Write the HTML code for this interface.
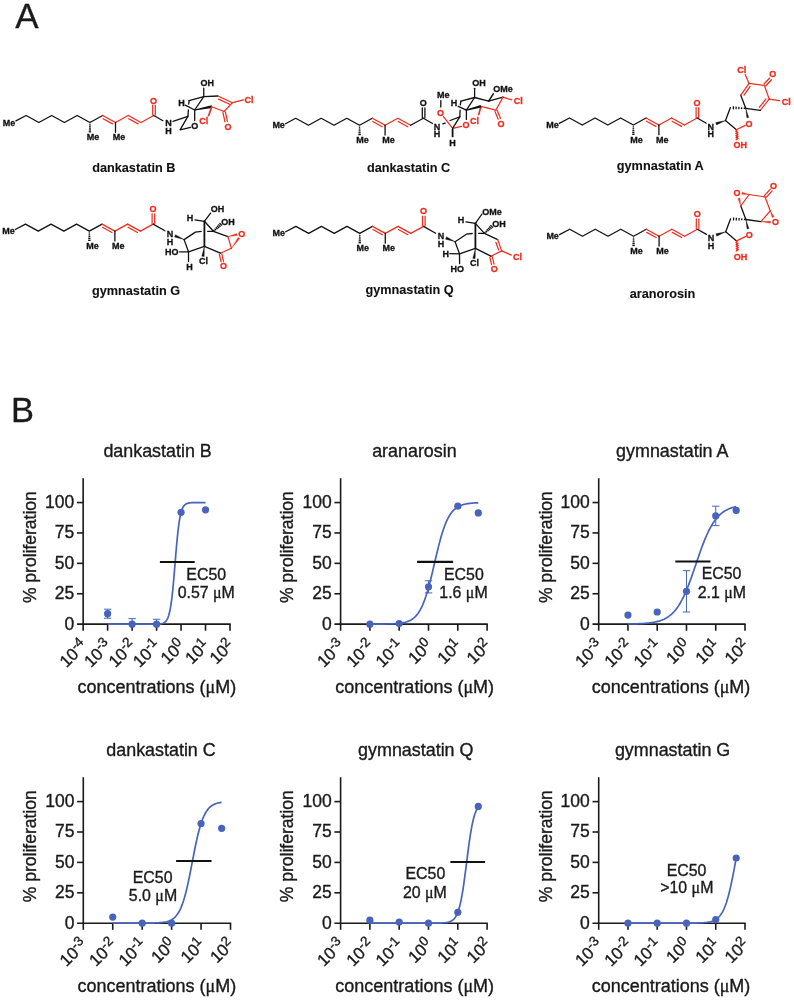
<!DOCTYPE html>
<html lang="en"><head><meta charset="utf-8"><title>Figure: dankastatins and gymnastatins</title>
<style>
html,body{margin:0;padding:0;background:#fff}
body{width:794px;height:1000px;overflow:hidden}
svg{display:block;font-family:"Liberation Sans",sans-serif}
</style></head><body>
<svg width="794" height="1000" viewBox="0 0 794 1000">
<rect width="794" height="1000" fill="#fff"/>
<text x="15.3" y="27.7" font-size="35" fill="#1a1a1a" stroke="#1a1a1a" stroke-width="0.3">A</text>
<text x="11.1" y="422.1" font-size="34.5" fill="#1a1a1a" stroke="#1a1a1a" stroke-width="0.3">B</text>
<g id="structures">
<polyline points="15.9,120.9 26.1,115.5 38.87,122.5 51.64,115.5 64.41,122.5 77.18,115.5 89.95,122.5 102.72,115.5" fill="none" stroke="#111111" stroke-width="1.3" stroke-linecap="round" stroke-linejoin="round"/>
<line x1="102.72" y1="115.5" x2="115.49" y2="122.5" stroke="#ee2b1d" stroke-width="1.22" stroke-linecap="round"/>
<line x1="103.14" y1="118.69" x2="112.57" y2="123.87" stroke="#ee2b1d" stroke-width="1.22" stroke-linecap="round"/>
<line x1="115.49" y1="122.5" x2="128.26" y2="115.5" stroke="#ee2b1d" stroke-width="1.22" stroke-linecap="round"/>
<line x1="128.26" y1="115.5" x2="141.03" y2="122.5" stroke="#ee2b1d" stroke-width="1.22" stroke-linecap="round"/>
<line x1="128.68" y1="118.69" x2="138.11" y2="123.87" stroke="#ee2b1d" stroke-width="1.22" stroke-linecap="round"/>
<line x1="141.03" y1="122.5" x2="153.8" y2="115.5" stroke="#ee2b1d" stroke-width="1.22" stroke-linecap="round"/>
<line x1="155.3" y1="114.9" x2="155.3" y2="105.2" stroke="#ee2b1d" stroke-width="1.22" stroke-linecap="round"/>
<line x1="152.7" y1="114.9" x2="152.7" y2="105.2" stroke="#ee2b1d" stroke-width="1.22" stroke-linecap="round"/>
<text x="153.6" y="103.5" fill="#ee2b1d" stroke="#ee2b1d" stroke-width="0.3" font-size="9.0" font-weight="bold" text-anchor="middle">O</text>
<text x="15.3" y="125.5" fill="#111111" stroke="#111111" stroke-width="0.3" font-size="9.0" font-weight="bold" text-anchor="end">Me</text>
<line x1="89.29" y1="124.42" x2="90.61" y2="124.42" stroke="#111111" stroke-width="1.3" stroke-linecap="butt"/>
<line x1="89.15" y1="126.26" x2="90.75" y2="126.26" stroke="#111111" stroke-width="1.3" stroke-linecap="butt"/>
<line x1="89.01" y1="128.1" x2="90.89" y2="128.1" stroke="#111111" stroke-width="1.3" stroke-linecap="butt"/>
<line x1="88.86" y1="129.94" x2="91.04" y2="129.94" stroke="#111111" stroke-width="1.3" stroke-linecap="butt"/>
<line x1="88.72" y1="131.78" x2="91.18" y2="131.78" stroke="#111111" stroke-width="1.3" stroke-linecap="butt"/>
<text x="86.75" y="140.1" fill="#111111" stroke="#111111" stroke-width="0.3" font-size="9.0" font-weight="bold" text-anchor="start">Me</text>
<line x1="115.49" y1="122.5" x2="115.49" y2="132.3" stroke="#111111" stroke-width="1.3" stroke-linecap="round"/>
<text x="112.69" y="140.1" fill="#111111" stroke="#111111" stroke-width="0.3" font-size="9.0" font-weight="bold" text-anchor="start">Me</text>
<line x1="153.8" y1="115.5" x2="162.9" y2="120.69" stroke="#111111" stroke-width="1.3" stroke-linecap="round"/>
<text x="168.4" y="126.4" fill="#111111" stroke="#111111" stroke-width="0.3" font-size="9.0" font-weight="bold" text-anchor="middle">N</text>
<text x="168.4" y="133.8" fill="#111111" stroke="#111111" stroke-width="0.3" font-size="9.0" font-weight="bold" text-anchor="middle">H</text>
<line x1="173" y1="121.4" x2="187.9" y2="116.3" stroke="#111111" stroke-width="1.3" stroke-linecap="round"/>
<polyline points="187.9,116.3 180.1,129.8 190.6,127.4" fill="none" stroke="#111111" stroke-width="1.3" stroke-linecap="round" stroke-linejoin="round"/>
<line x1="187.9" y1="116.3" x2="188.4" y2="109.9" stroke="#111111" stroke-width="1.3" stroke-linecap="round"/>
<line x1="188.7" y1="104" x2="189.1" y2="100.7" stroke="#111111" stroke-width="1.3" stroke-linecap="round"/>
<line x1="189.1" y1="100.7" x2="203.75" y2="96.7" stroke="#111111" stroke-width="1.3" stroke-linecap="round"/>
<line x1="203.75" y1="96.7" x2="203.75" y2="88.1" stroke="#111111" stroke-width="1.3" stroke-linecap="round"/>
<line x1="203.75" y1="96.7" x2="194.7" y2="110" stroke="#111111" stroke-width="1.3" stroke-linecap="round"/>
<line x1="203.75" y1="96.7" x2="217.9" y2="96" stroke="#111111" stroke-width="1.3" stroke-linecap="round"/>
<line x1="194.7" y1="110" x2="194.7" y2="120.6" stroke="#111111" stroke-width="1.3" stroke-linecap="round"/>
<line x1="185.2" y1="105.2" x2="194.7" y2="110" stroke="#111111" stroke-width="1.3" stroke-linecap="round"/>
<polygon points="194.81,110.59 212.06,108.03 211.54,105.37 194.59,109.41" fill="#111111"/>
<line x1="217.9" y1="96" x2="232.5" y2="102.7" stroke="#ee2b1d" stroke-width="1.22" stroke-linecap="round"/>
<line x1="218.54" y1="99.16" x2="229.69" y2="104.27" stroke="#ee2b1d" stroke-width="1.22" stroke-linecap="round"/>
<line x1="232.5" y1="102.7" x2="243.6" y2="99.9" stroke="#ee2b1d" stroke-width="1.22" stroke-linecap="round"/>
<line x1="232.5" y1="102.7" x2="224" y2="111.5" stroke="#ee2b1d" stroke-width="1.22" stroke-linecap="round"/>
<line x1="224" y1="111.5" x2="211.8" y2="106.7" stroke="#ee2b1d" stroke-width="1.22" stroke-linecap="round"/>
<line x1="211.8" y1="106.7" x2="208.4" y2="116.2" stroke="#ee2b1d" stroke-width="1.7" stroke-linecap="butt"/>
<line x1="222.98" y1="112.56" x2="224.98" y2="121.86" stroke="#ee2b1d" stroke-width="1.22" stroke-linecap="round"/>
<line x1="225.42" y1="112.04" x2="227.42" y2="121.34" stroke="#ee2b1d" stroke-width="1.22" stroke-linecap="round"/>
<text x="200.6" y="85.7" fill="#111111" stroke="#111111" stroke-width="0.3" font-size="9.0" font-weight="bold" text-anchor="start">OH</text>
<text x="181.4" y="105.8" fill="#111111" stroke="#111111" stroke-width="0.3" font-size="9.0" font-weight="bold" text-anchor="middle">H</text>
<text x="194.8" y="128.9" fill="#111111" stroke="#111111" stroke-width="0.3" font-size="9.0" font-weight="bold" text-anchor="middle">O</text>
<text x="199.2" y="124.4" fill="#ee2b1d" stroke="#ee2b1d" stroke-width="0.3" font-size="9.0" font-weight="bold" text-anchor="start">Cl</text>
<text x="227.9" y="129.9" fill="#ee2b1d" stroke="#ee2b1d" stroke-width="0.3" font-size="9.0" font-weight="bold" text-anchor="middle">O</text>
<text x="244.4" y="103.2" fill="#ee2b1d" stroke="#ee2b1d" stroke-width="0.3" font-size="9.0" font-weight="bold" text-anchor="start">Cl</text>
<text x="133.8" y="171.8" fill="#111111" stroke="#111111" stroke-width="0.1" font-size="12.7" font-weight="bold" text-anchor="middle">dankastatin B</text>
<polyline points="285.5,123.7 295.7,118.3 308.47,125.3 321.24,118.3 334.01,125.3 346.78,118.3 359.55,125.3 372.32,118.3" fill="none" stroke="#111111" stroke-width="1.3" stroke-linecap="round" stroke-linejoin="round"/>
<line x1="372.32" y1="118.3" x2="385.09" y2="125.3" stroke="#ee2b1d" stroke-width="1.22" stroke-linecap="round"/>
<line x1="372.74" y1="121.49" x2="382.17" y2="126.67" stroke="#ee2b1d" stroke-width="1.22" stroke-linecap="round"/>
<line x1="385.09" y1="125.3" x2="397.86" y2="118.3" stroke="#ee2b1d" stroke-width="1.22" stroke-linecap="round"/>
<line x1="397.86" y1="118.3" x2="410.63" y2="125.3" stroke="#ee2b1d" stroke-width="1.22" stroke-linecap="round"/>
<line x1="398.28" y1="121.49" x2="407.71" y2="126.67" stroke="#ee2b1d" stroke-width="1.22" stroke-linecap="round"/>
<line x1="410.63" y1="125.3" x2="423.4" y2="118.3" stroke="#111111" stroke-width="1.3" stroke-linecap="round"/>
<line x1="424.9" y1="117.7" x2="424.9" y2="108" stroke="#111111" stroke-width="1.3" stroke-linecap="round"/>
<line x1="422.3" y1="117.7" x2="422.3" y2="108" stroke="#111111" stroke-width="1.3" stroke-linecap="round"/>
<text x="423.2" y="106.3" fill="#111111" stroke="#111111" stroke-width="0.3" font-size="9.0" font-weight="bold" text-anchor="middle">O</text>
<text x="284.9" y="128.3" fill="#111111" stroke="#111111" stroke-width="0.3" font-size="9.0" font-weight="bold" text-anchor="end">Me</text>
<line x1="358.89" y1="127.22" x2="360.21" y2="127.22" stroke="#111111" stroke-width="1.3" stroke-linecap="butt"/>
<line x1="358.75" y1="129.06" x2="360.35" y2="129.06" stroke="#111111" stroke-width="1.3" stroke-linecap="butt"/>
<line x1="358.61" y1="130.9" x2="360.49" y2="130.9" stroke="#111111" stroke-width="1.3" stroke-linecap="butt"/>
<line x1="358.46" y1="132.74" x2="360.64" y2="132.74" stroke="#111111" stroke-width="1.3" stroke-linecap="butt"/>
<line x1="358.32" y1="134.58" x2="360.78" y2="134.58" stroke="#111111" stroke-width="1.3" stroke-linecap="butt"/>
<text x="356.35" y="142.9" fill="#111111" stroke="#111111" stroke-width="0.3" font-size="9.0" font-weight="bold" text-anchor="start">Me</text>
<line x1="385.09" y1="125.3" x2="385.09" y2="135.1" stroke="#111111" stroke-width="1.3" stroke-linecap="round"/>
<text x="382.29" y="142.9" fill="#111111" stroke="#111111" stroke-width="0.3" font-size="9.0" font-weight="bold" text-anchor="start">Me</text>
<line x1="423.4" y1="118.3" x2="432.5" y2="123.49" stroke="#111111" stroke-width="1.3" stroke-linecap="round"/>
<text x="437" y="129.6" fill="#111111" stroke="#111111" stroke-width="0.3" font-size="9.0" font-weight="bold" text-anchor="middle">N</text>
<text x="437" y="136.6" fill="#111111" stroke="#111111" stroke-width="0.3" font-size="9.0" font-weight="bold" text-anchor="middle">H</text>
<line x1="442.8" y1="123.9" x2="445.2" y2="123.1" stroke="#111111" stroke-width="1.3" stroke-linecap="round"/>
<line x1="450" y1="120.5" x2="459.8" y2="116.8" stroke="#111111" stroke-width="1.3" stroke-linecap="round"/>
<text x="436.9" y="98.1" fill="#111111" stroke="#111111" stroke-width="0.3" font-size="9.0" font-weight="bold" text-anchor="start">Me</text>
<line x1="440.8" y1="100.6" x2="440.8" y2="107" stroke="#111111" stroke-width="1.3" stroke-linecap="round"/>
<text x="440.6" y="115.9" fill="#ee2b1d" stroke="#ee2b1d" stroke-width="0.3" font-size="9.0" font-weight="bold" text-anchor="middle">O</text>
<line x1="443.4" y1="116.6" x2="452.6" y2="128.4" stroke="#ee2b1d" stroke-width="1.22" stroke-linecap="round"/>
<line x1="452.6" y1="128.4" x2="461.6" y2="126.3" stroke="#ee2b1d" stroke-width="1.22" stroke-linecap="round"/>
<text x="466.1" y="128.1" fill="#ee2b1d" stroke="#ee2b1d" stroke-width="0.3" font-size="9.0" font-weight="bold" text-anchor="middle">O</text>
<line x1="452.6" y1="128.4" x2="459.8" y2="116.8" stroke="#111111" stroke-width="1.3" stroke-linecap="round"/>
<line x1="452.6" y1="129" x2="452.6" y2="137.2" stroke="#111111" stroke-width="1.8" stroke-linecap="butt"/>
<text x="452.6" y="146.3" fill="#111111" stroke="#111111" stroke-width="0.3" font-size="9.0" font-weight="bold" text-anchor="middle">H</text>
<line x1="459.8" y1="116.8" x2="460.1" y2="110.2" stroke="#111111" stroke-width="1.3" stroke-linecap="round"/>
<line x1="460.9" y1="101.2" x2="460.3" y2="104.9" stroke="#111111" stroke-width="1.3" stroke-linecap="round"/>
<text x="454" y="106.3" fill="#111111" stroke="#111111" stroke-width="0.3" font-size="9.0" font-weight="bold" text-anchor="middle">H</text>
<line x1="458.2" y1="106.3" x2="466.4" y2="110.2" stroke="#111111" stroke-width="1.3" stroke-linecap="round"/>
<line x1="466.4" y1="110.2" x2="466.4" y2="119.4" stroke="#111111" stroke-width="1.3" stroke-linecap="round"/>
<line x1="474.6" y1="97.5" x2="474.6" y2="88.3" stroke="#111111" stroke-width="1.3" stroke-linecap="round"/>
<text x="472.2" y="85.9" fill="#111111" stroke="#111111" stroke-width="0.3" font-size="9.0" font-weight="bold" text-anchor="start">OH</text>
<line x1="474.6" y1="97.5" x2="460.9" y2="101.2" stroke="#111111" stroke-width="1.3" stroke-linecap="round"/>
<line x1="474.6" y1="97.5" x2="466.4" y2="110.2" stroke="#111111" stroke-width="1.3" stroke-linecap="round"/>
<line x1="474.6" y1="97.5" x2="488.6" y2="101.2" stroke="#111111" stroke-width="1.3" stroke-linecap="round"/>
<line x1="488.6" y1="101.2" x2="503" y2="97.1" stroke="#111111" stroke-width="1.3" stroke-linecap="round"/>
<line x1="488.6" y1="101.2" x2="493.3" y2="93.8" stroke="#111111" stroke-width="1.5" stroke-linecap="round"/>
<text x="493.2" y="92.2" fill="#111111" stroke="#111111" stroke-width="0.3" font-size="9.0" font-weight="bold" text-anchor="start">OMe</text>
<line x1="503" y1="97.1" x2="511.8" y2="99.9" stroke="#ee2b1d" stroke-width="1.22" stroke-linecap="round"/>
<text x="513.8" y="104.4" fill="#ee2b1d" stroke="#ee2b1d" stroke-width="0.3" font-size="9.0" font-weight="bold" text-anchor="start">Cl</text>
<line x1="503" y1="97.1" x2="495.8" y2="110.2" stroke="#ee2b1d" stroke-width="1.22" stroke-linecap="round"/>
<line x1="494.94" y1="111.37" x2="498.14" y2="119.27" stroke="#ee2b1d" stroke-width="1.22" stroke-linecap="round"/>
<line x1="497.26" y1="110.43" x2="500.46" y2="118.33" stroke="#ee2b1d" stroke-width="1.22" stroke-linecap="round"/>
<text x="501" y="127" fill="#ee2b1d" stroke="#ee2b1d" stroke-width="0.3" font-size="9.0" font-weight="bold" text-anchor="middle">O</text>
<line x1="495.8" y1="110.2" x2="481" y2="106.3" stroke="#ee2b1d" stroke-width="1.22" stroke-linecap="round"/>
<line x1="481" y1="106.3" x2="478.5" y2="115.2" stroke="#ee2b1d" stroke-width="1.6" stroke-linecap="butt"/>
<text x="469.9" y="124" fill="#ee2b1d" stroke="#ee2b1d" stroke-width="0.3" font-size="9.0" font-weight="bold" text-anchor="start">Cl</text>
<polygon points="466.55,110.78 481.35,107.6 480.65,105 466.25,109.62" fill="#111111"/>
<text x="408.6" y="171.6" fill="#111111" stroke="#111111" stroke-width="0.1" font-size="12.7" font-weight="bold" text-anchor="middle">dankastatin C</text>
<polyline points="559.3,123.4 569.5,118 582.27,125 595.04,118 607.81,125 620.58,118 633.35,125 646.12,118" fill="none" stroke="#111111" stroke-width="1.3" stroke-linecap="round" stroke-linejoin="round"/>
<line x1="646.12" y1="118" x2="658.89" y2="125" stroke="#ee2b1d" stroke-width="1.22" stroke-linecap="round"/>
<line x1="646.54" y1="121.19" x2="655.97" y2="126.37" stroke="#ee2b1d" stroke-width="1.22" stroke-linecap="round"/>
<line x1="658.89" y1="125" x2="671.66" y2="118" stroke="#ee2b1d" stroke-width="1.22" stroke-linecap="round"/>
<line x1="671.66" y1="118" x2="684.43" y2="125" stroke="#ee2b1d" stroke-width="1.22" stroke-linecap="round"/>
<line x1="672.08" y1="121.19" x2="681.51" y2="126.37" stroke="#ee2b1d" stroke-width="1.22" stroke-linecap="round"/>
<line x1="684.43" y1="125" x2="697.2" y2="118" stroke="#ee2b1d" stroke-width="1.22" stroke-linecap="round"/>
<line x1="698.7" y1="117.4" x2="698.7" y2="107.7" stroke="#ee2b1d" stroke-width="1.22" stroke-linecap="round"/>
<line x1="696.1" y1="117.4" x2="696.1" y2="107.7" stroke="#ee2b1d" stroke-width="1.22" stroke-linecap="round"/>
<text x="697" y="106" fill="#ee2b1d" stroke="#ee2b1d" stroke-width="0.3" font-size="9.0" font-weight="bold" text-anchor="middle">O</text>
<text x="558.7" y="128" fill="#111111" stroke="#111111" stroke-width="0.3" font-size="9.0" font-weight="bold" text-anchor="end">Me</text>
<line x1="632.69" y1="126.92" x2="634.01" y2="126.92" stroke="#111111" stroke-width="1.3" stroke-linecap="butt"/>
<line x1="632.55" y1="128.76" x2="634.15" y2="128.76" stroke="#111111" stroke-width="1.3" stroke-linecap="butt"/>
<line x1="632.41" y1="130.6" x2="634.29" y2="130.6" stroke="#111111" stroke-width="1.3" stroke-linecap="butt"/>
<line x1="632.26" y1="132.44" x2="634.44" y2="132.44" stroke="#111111" stroke-width="1.3" stroke-linecap="butt"/>
<line x1="632.12" y1="134.28" x2="634.58" y2="134.28" stroke="#111111" stroke-width="1.3" stroke-linecap="butt"/>
<text x="630.15" y="142.6" fill="#111111" stroke="#111111" stroke-width="0.3" font-size="9.0" font-weight="bold" text-anchor="start">Me</text>
<line x1="658.89" y1="125" x2="658.89" y2="134.8" stroke="#111111" stroke-width="1.3" stroke-linecap="round"/>
<text x="656.09" y="142.6" fill="#111111" stroke="#111111" stroke-width="0.3" font-size="9.0" font-weight="bold" text-anchor="start">Me</text>
<line x1="697.2" y1="118" x2="706.3" y2="123.19" stroke="#111111" stroke-width="1.3" stroke-linecap="round"/>
<text x="710.7" y="129.8" fill="#111111" stroke="#111111" stroke-width="0.3" font-size="9.0" font-weight="bold" text-anchor="middle">N</text>
<text x="710.7" y="137.4" fill="#111111" stroke="#111111" stroke-width="0.3" font-size="9.0" font-weight="bold" text-anchor="middle">H</text>
<polygon points="725.5,120.6 715.7,122.62 716.5,124.98" fill="#111111" stroke="#111111" stroke-width="0.35" stroke-linejoin="round"/>
<line x1="725.5" y1="120.6" x2="730.4" y2="107.6" stroke="#111111" stroke-width="1.3" stroke-linecap="round"/>
<line x1="744.36" y1="107.44" x2="744.3" y2="109.06" stroke="#111111" stroke-width="1.3" stroke-linecap="butt"/>
<line x1="741.63" y1="107.17" x2="741.55" y2="109.13" stroke="#111111" stroke-width="1.3" stroke-linecap="butt"/>
<line x1="738.89" y1="106.89" x2="738.81" y2="109.21" stroke="#111111" stroke-width="1.3" stroke-linecap="butt"/>
<line x1="736.16" y1="106.61" x2="736.06" y2="109.29" stroke="#111111" stroke-width="1.3" stroke-linecap="butt"/>
<line x1="733.43" y1="106.34" x2="733.31" y2="109.36" stroke="#111111" stroke-width="1.3" stroke-linecap="butt"/>
<line x1="725.5" y1="120.6" x2="736.4" y2="129.7" stroke="#111111" stroke-width="1.3" stroke-linecap="round"/>
<line x1="736.4" y1="129.7" x2="745.2" y2="125.4" stroke="#ee2b1d" stroke-width="1.22" stroke-linecap="round"/>
<text x="749.1" y="126.8" fill="#ee2b1d" stroke="#ee2b1d" stroke-width="0.3" font-size="9.0" font-weight="bold" text-anchor="middle">O</text>
<path d="M736.7,130.3 L735.86,131.37 L737.71,132.3 L735.97,133.42 L737.82,134.34 L736.08,135.46 L737.93,136.38 L736.19,137.5 L738.04,138.43 L736.3,139.55" fill="none" stroke="#ee2b1d" stroke-width="1.5" stroke-linejoin="round" stroke-linecap="round"/>
<text x="733.5" y="148.4" fill="#ee2b1d" stroke="#ee2b1d" stroke-width="0.3" font-size="9.0" font-weight="bold" text-anchor="start">OH</text>
<polygon points="745.7,108.3 746.87,117.81 748.73,117.39" fill="#111111" stroke="#111111" stroke-width="0.35" stroke-linejoin="round"/>
<line x1="745.7" y1="108.3" x2="740.8" y2="95.2" stroke="#111111" stroke-width="1.3" stroke-linecap="round"/>
<line x1="740.8" y1="95.2" x2="749.1" y2="83.4" stroke="#ee2b1d" stroke-width="1.22" stroke-linecap="round"/>
<line x1="744.02" y1="95.14" x2="750.13" y2="86.45" stroke="#ee2b1d" stroke-width="1.22" stroke-linecap="round"/>
<line x1="749.1" y1="83.4" x2="745.2" y2="74.6" stroke="#ee2b1d" stroke-width="1.22" stroke-linecap="round"/>
<text x="737.3" y="73" fill="#ee2b1d" stroke="#ee2b1d" stroke-width="0.3" font-size="9.0" font-weight="bold" text-anchor="start">Cl</text>
<line x1="749.1" y1="83.4" x2="764.4" y2="85.5" stroke="#ee2b1d" stroke-width="1.22" stroke-linecap="round"/>
<line x1="764.4" y1="85.5" x2="769.2" y2="99.1" stroke="#ee2b1d" stroke-width="1.22" stroke-linecap="round"/>
<line x1="769.2" y1="99.1" x2="779.6" y2="100.7" stroke="#ee2b1d" stroke-width="1.22" stroke-linecap="round"/>
<text x="781.7" y="104.6" fill="#ee2b1d" stroke="#ee2b1d" stroke-width="0.3" font-size="9.0" font-weight="bold" text-anchor="start">Cl</text>
<line x1="769.2" y1="99.1" x2="760.2" y2="110.4" stroke="#ee2b1d" stroke-width="1.22" stroke-linecap="round"/>
<line x1="765.98" y1="98.97" x2="759.35" y2="107.29" stroke="#ee2b1d" stroke-width="1.22" stroke-linecap="round"/>
<line x1="760.2" y1="110.4" x2="745.7" y2="108.3" stroke="#111111" stroke-width="1.3" stroke-linecap="round"/>
<line x1="765.81" y1="85.76" x2="771.51" y2="79.76" stroke="#ee2b1d" stroke-width="1.22" stroke-linecap="round"/>
<line x1="763.99" y1="84.04" x2="769.69" y2="78.04" stroke="#ee2b1d" stroke-width="1.22" stroke-linecap="round"/>
<text x="772.7" y="77.4" fill="#ee2b1d" stroke="#ee2b1d" stroke-width="0.3" font-size="9.0" font-weight="bold" text-anchor="middle">O</text>
<text x="660.3" y="169.6" fill="#111111" stroke="#111111" stroke-width="0.1" font-size="12.7" font-weight="bold" text-anchor="middle">gymnastatin A</text>
<polyline points="559.5,234.6 569.7,229.2 582.47,236.2 595.24,229.2 608.01,236.2 620.78,229.2 633.55,236.2 646.32,229.2" fill="none" stroke="#111111" stroke-width="1.3" stroke-linecap="round" stroke-linejoin="round"/>
<line x1="646.32" y1="229.2" x2="659.09" y2="236.2" stroke="#ee2b1d" stroke-width="1.22" stroke-linecap="round"/>
<line x1="646.74" y1="232.39" x2="656.17" y2="237.57" stroke="#ee2b1d" stroke-width="1.22" stroke-linecap="round"/>
<line x1="659.09" y1="236.2" x2="671.86" y2="229.2" stroke="#ee2b1d" stroke-width="1.22" stroke-linecap="round"/>
<line x1="671.86" y1="229.2" x2="684.63" y2="236.2" stroke="#ee2b1d" stroke-width="1.22" stroke-linecap="round"/>
<line x1="672.28" y1="232.39" x2="681.71" y2="237.57" stroke="#ee2b1d" stroke-width="1.22" stroke-linecap="round"/>
<line x1="684.63" y1="236.2" x2="697.4" y2="229.2" stroke="#ee2b1d" stroke-width="1.22" stroke-linecap="round"/>
<line x1="698.9" y1="228.6" x2="698.9" y2="218.9" stroke="#ee2b1d" stroke-width="1.22" stroke-linecap="round"/>
<line x1="696.3" y1="228.6" x2="696.3" y2="218.9" stroke="#ee2b1d" stroke-width="1.22" stroke-linecap="round"/>
<text x="697.2" y="217.2" fill="#ee2b1d" stroke="#ee2b1d" stroke-width="0.3" font-size="9.0" font-weight="bold" text-anchor="middle">O</text>
<text x="558.9" y="239.2" fill="#111111" stroke="#111111" stroke-width="0.3" font-size="9.0" font-weight="bold" text-anchor="end">Me</text>
<line x1="632.89" y1="238.12" x2="634.21" y2="238.12" stroke="#111111" stroke-width="1.3" stroke-linecap="butt"/>
<line x1="632.75" y1="239.96" x2="634.35" y2="239.96" stroke="#111111" stroke-width="1.3" stroke-linecap="butt"/>
<line x1="632.61" y1="241.8" x2="634.49" y2="241.8" stroke="#111111" stroke-width="1.3" stroke-linecap="butt"/>
<line x1="632.46" y1="243.64" x2="634.64" y2="243.64" stroke="#111111" stroke-width="1.3" stroke-linecap="butt"/>
<line x1="632.32" y1="245.48" x2="634.78" y2="245.48" stroke="#111111" stroke-width="1.3" stroke-linecap="butt"/>
<text x="630.35" y="253.8" fill="#111111" stroke="#111111" stroke-width="0.3" font-size="9.0" font-weight="bold" text-anchor="start">Me</text>
<line x1="659.09" y1="236.2" x2="659.09" y2="246" stroke="#111111" stroke-width="1.3" stroke-linecap="round"/>
<text x="656.29" y="253.8" fill="#111111" stroke="#111111" stroke-width="0.3" font-size="9.0" font-weight="bold" text-anchor="start">Me</text>
<line x1="697.4" y1="229.2" x2="706.5" y2="234.39" stroke="#111111" stroke-width="1.3" stroke-linecap="round"/>
<text x="710.9" y="241" fill="#111111" stroke="#111111" stroke-width="0.3" font-size="9.0" font-weight="bold" text-anchor="middle">N</text>
<text x="710.9" y="248.6" fill="#111111" stroke="#111111" stroke-width="0.3" font-size="9.0" font-weight="bold" text-anchor="middle">H</text>
<polygon points="725.7,231.8 715.9,233.82 716.7,236.18" fill="#111111" stroke="#111111" stroke-width="0.35" stroke-linejoin="round"/>
<line x1="725.7" y1="231.8" x2="730.6" y2="218.8" stroke="#111111" stroke-width="1.3" stroke-linecap="round"/>
<line x1="744.56" y1="218.64" x2="744.5" y2="220.26" stroke="#111111" stroke-width="1.3" stroke-linecap="butt"/>
<line x1="741.83" y1="218.37" x2="741.75" y2="220.33" stroke="#111111" stroke-width="1.3" stroke-linecap="butt"/>
<line x1="739.09" y1="218.09" x2="739.01" y2="220.41" stroke="#111111" stroke-width="1.3" stroke-linecap="butt"/>
<line x1="736.36" y1="217.81" x2="736.26" y2="220.49" stroke="#111111" stroke-width="1.3" stroke-linecap="butt"/>
<line x1="733.63" y1="217.54" x2="733.51" y2="220.56" stroke="#111111" stroke-width="1.3" stroke-linecap="butt"/>
<line x1="725.7" y1="231.8" x2="736.6" y2="240.9" stroke="#111111" stroke-width="1.3" stroke-linecap="round"/>
<line x1="736.6" y1="240.9" x2="745.4" y2="236.6" stroke="#ee2b1d" stroke-width="1.22" stroke-linecap="round"/>
<text x="749.3" y="238" fill="#ee2b1d" stroke="#ee2b1d" stroke-width="0.3" font-size="9.0" font-weight="bold" text-anchor="middle">O</text>
<path d="M736.9,241.5 L736.06,242.57 L737.91,243.5 L736.17,244.62 L738.02,245.54 L736.28,246.66 L738.13,247.58 L736.39,248.7 L738.24,249.63 L736.5,250.75" fill="none" stroke="#ee2b1d" stroke-width="1.5" stroke-linejoin="round" stroke-linecap="round"/>
<text x="733.7" y="259.6" fill="#ee2b1d" stroke="#ee2b1d" stroke-width="0.3" font-size="9.0" font-weight="bold" text-anchor="start">OH</text>
<polygon points="745.9,219.5 747.07,229.01 748.93,228.59" fill="#111111" stroke="#111111" stroke-width="0.35" stroke-linejoin="round"/>
<line x1="745.9" y1="219.5" x2="740.8" y2="206" stroke="#111111" stroke-width="1.3" stroke-linecap="round"/>
<line x1="740.8" y1="206" x2="749.1" y2="194.5" stroke="#ee2b1d" stroke-width="1.22" stroke-linecap="round"/>
<line x1="749.1" y1="194.5" x2="765" y2="196.9" stroke="#ee2b1d" stroke-width="1.22" stroke-linecap="round"/>
<line x1="765" y1="196.9" x2="770.2" y2="210.8" stroke="#ee2b1d" stroke-width="1.22" stroke-linecap="round"/>
<line x1="770.2" y1="210.8" x2="760.9" y2="221.6" stroke="#ee2b1d" stroke-width="1.22" stroke-linecap="round"/>
<line x1="760.9" y1="221.6" x2="745.9" y2="219.5" stroke="#111111" stroke-width="1.3" stroke-linecap="round"/>
<polygon points="740.8,206 739.87,197.96 737.93,198.44" fill="#ee2b1d" stroke="#ee2b1d" stroke-width="0.35" stroke-linejoin="round"/>
<polygon points="749.1,194.5 742.18,192.22 741.82,194.18" fill="#ee2b1d" stroke="#ee2b1d" stroke-width="0.35" stroke-linejoin="round"/>
<text x="736.9" y="195.7" fill="#ee2b1d" stroke="#ee2b1d" stroke-width="0.3" font-size="9.0" font-weight="bold" text-anchor="middle">O</text>
<polygon points="770.2,210.8 772.29,217.62 774.11,216.78" fill="#ee2b1d" stroke="#ee2b1d" stroke-width="0.35" stroke-linejoin="round"/>
<polygon points="760.9,221.6 770.34,223.2 770.46,221.2" fill="#ee2b1d" stroke="#ee2b1d" stroke-width="0.35" stroke-linejoin="round"/>
<text x="775.4" y="225.3" fill="#ee2b1d" stroke="#ee2b1d" stroke-width="0.3" font-size="9.0" font-weight="bold" text-anchor="middle">O</text>
<line x1="766.42" y1="197.15" x2="772.22" y2="190.85" stroke="#ee2b1d" stroke-width="1.22" stroke-linecap="round"/>
<line x1="764.58" y1="195.45" x2="770.38" y2="189.15" stroke="#ee2b1d" stroke-width="1.22" stroke-linecap="round"/>
<text x="773.4" y="188.8" fill="#ee2b1d" stroke="#ee2b1d" stroke-width="0.3" font-size="9.0" font-weight="bold" text-anchor="middle">O</text>
<text x="662.5" y="297.6" fill="#111111" stroke="#111111" stroke-width="0.1" font-size="12.7" font-weight="bold" text-anchor="middle">aranorosin</text>
<polyline points="15.3,229.5 25.5,224.1 38.27,231.1 51.04,224.1 63.81,231.1 76.58,224.1 89.35,231.1 102.12,224.1" fill="none" stroke="#111111" stroke-width="1.3" stroke-linecap="round" stroke-linejoin="round"/>
<line x1="102.12" y1="224.1" x2="114.89" y2="231.1" stroke="#ee2b1d" stroke-width="1.22" stroke-linecap="round"/>
<line x1="102.54" y1="227.29" x2="111.97" y2="232.47" stroke="#ee2b1d" stroke-width="1.22" stroke-linecap="round"/>
<line x1="114.89" y1="231.1" x2="127.66" y2="224.1" stroke="#ee2b1d" stroke-width="1.22" stroke-linecap="round"/>
<line x1="127.66" y1="224.1" x2="140.43" y2="231.1" stroke="#ee2b1d" stroke-width="1.22" stroke-linecap="round"/>
<line x1="128.08" y1="227.29" x2="137.51" y2="232.47" stroke="#ee2b1d" stroke-width="1.22" stroke-linecap="round"/>
<line x1="140.43" y1="231.1" x2="153.2" y2="224.1" stroke="#ee2b1d" stroke-width="1.22" stroke-linecap="round"/>
<line x1="154.7" y1="223.5" x2="154.7" y2="213.8" stroke="#ee2b1d" stroke-width="1.22" stroke-linecap="round"/>
<line x1="152.1" y1="223.5" x2="152.1" y2="213.8" stroke="#ee2b1d" stroke-width="1.22" stroke-linecap="round"/>
<text x="153" y="212.1" fill="#ee2b1d" stroke="#ee2b1d" stroke-width="0.3" font-size="9.0" font-weight="bold" text-anchor="middle">O</text>
<text x="14.7" y="234.1" fill="#111111" stroke="#111111" stroke-width="0.3" font-size="9.0" font-weight="bold" text-anchor="end">Me</text>
<line x1="88.69" y1="233.02" x2="90.01" y2="233.02" stroke="#111111" stroke-width="1.3" stroke-linecap="butt"/>
<line x1="88.55" y1="234.86" x2="90.15" y2="234.86" stroke="#111111" stroke-width="1.3" stroke-linecap="butt"/>
<line x1="88.41" y1="236.7" x2="90.29" y2="236.7" stroke="#111111" stroke-width="1.3" stroke-linecap="butt"/>
<line x1="88.26" y1="238.54" x2="90.44" y2="238.54" stroke="#111111" stroke-width="1.3" stroke-linecap="butt"/>
<line x1="88.12" y1="240.38" x2="90.58" y2="240.38" stroke="#111111" stroke-width="1.3" stroke-linecap="butt"/>
<text x="86.15" y="248.7" fill="#111111" stroke="#111111" stroke-width="0.3" font-size="9.0" font-weight="bold" text-anchor="start">Me</text>
<line x1="114.89" y1="231.1" x2="114.89" y2="240.9" stroke="#111111" stroke-width="1.3" stroke-linecap="round"/>
<text x="112.09" y="248.7" fill="#111111" stroke="#111111" stroke-width="0.3" font-size="9.0" font-weight="bold" text-anchor="start">Me</text>
<line x1="153.2" y1="224.1" x2="164.9" y2="230.77" stroke="#111111" stroke-width="1.3" stroke-linecap="round"/>
<text x="170.1" y="236.6" fill="#111111" stroke="#111111" stroke-width="0.3" font-size="9.0" font-weight="bold" text-anchor="middle">N</text>
<text x="170.1" y="244.6" fill="#111111" stroke="#111111" stroke-width="0.3" font-size="9.0" font-weight="bold" text-anchor="middle">H</text>
<polygon points="184.1,239.6 175.47,234.74 174.53,237.06" fill="#111111" stroke="#111111" stroke-width="0.35" stroke-linejoin="round"/>
<polyline points="184.1,239.6 195.4,232.1 201.2,231.4" fill="none" stroke="#111111" stroke-width="1.3" stroke-linecap="round" stroke-linejoin="round"/>
<line x1="207.6" y1="231.3" x2="213.4" y2="231.3" stroke="#111111" stroke-width="1.3" stroke-linecap="round"/>
<line x1="184.1" y1="239.6" x2="188.5" y2="251.8" stroke="#111111" stroke-width="1.3" stroke-linecap="round"/>
<line x1="188.5" y1="251.8" x2="204.4" y2="246.3" stroke="#111111" stroke-width="1.3" stroke-linecap="round"/>
<line x1="204.4" y1="246.3" x2="204.4" y2="221.3" stroke="#111111" stroke-width="1.8" stroke-linecap="round"/>
<line x1="204.4" y1="221.3" x2="213.4" y2="231.3" stroke="#111111" stroke-width="1.3" stroke-linecap="round"/>
<line x1="204.4" y1="221.3" x2="194.9" y2="219.8" stroke="#111111" stroke-width="1.3" stroke-linecap="round"/>
<text x="190" y="221" fill="#111111" stroke="#111111" stroke-width="0.3" font-size="9.0" font-weight="bold" text-anchor="middle">H</text>
<polygon points="204.4,246.3 201.81,256.24 204.19,256.56" fill="#111111" stroke="#111111" stroke-width="0.35" stroke-linejoin="round"/>
<text x="198.9" y="264.3" fill="#111111" stroke="#111111" stroke-width="0.3" font-size="9.0" font-weight="bold" text-anchor="start">Cl</text>
<line x1="214.72" y1="231.35" x2="213.42" y2="229.98" stroke="#111111" stroke-width="1.3" stroke-linecap="butt"/>
<line x1="216.17" y1="230.21" x2="214.63" y2="228.59" stroke="#111111" stroke-width="1.3" stroke-linecap="butt"/>
<line x1="217.62" y1="229.07" x2="215.84" y2="227.2" stroke="#111111" stroke-width="1.3" stroke-linecap="butt"/>
<line x1="219.08" y1="227.93" x2="217.06" y2="225.8" stroke="#111111" stroke-width="1.3" stroke-linecap="butt"/>
<line x1="220.53" y1="226.79" x2="218.27" y2="224.41" stroke="#111111" stroke-width="1.3" stroke-linecap="butt"/>
<line x1="221.98" y1="225.65" x2="219.48" y2="223.02" stroke="#111111" stroke-width="1.3" stroke-linecap="butt"/>
<text x="221.3" y="224.6" fill="#111111" stroke="#111111" stroke-width="0.3" font-size="9.0" font-weight="bold" text-anchor="start">OH</text>
<line x1="188.5" y1="251.8" x2="179.6" y2="251.8" stroke="#111111" stroke-width="1.3" stroke-linecap="round"/>
<text x="164.9" y="255.3" fill="#111111" stroke="#111111" stroke-width="0.3" font-size="9.0" font-weight="bold" text-anchor="start">HO</text>
<line x1="188.5" y1="251.8" x2="188.5" y2="261.4" stroke="#111111" stroke-width="1.3" stroke-linecap="round"/>
<text x="189.4" y="269.9" fill="#111111" stroke="#111111" stroke-width="0.3" font-size="9.0" font-weight="bold" text-anchor="middle">H</text>
<line x1="204.4" y1="221.3" x2="210.6" y2="213.1" stroke="#111111" stroke-width="1.3" stroke-linecap="round"/>
<text x="210.7" y="212.3" fill="#111111" stroke="#111111" stroke-width="0.3" font-size="9.0" font-weight="bold" text-anchor="start">OH</text>
<line x1="213.4" y1="231.3" x2="228" y2="236.6" stroke="#111111" stroke-width="1.3" stroke-linecap="round"/>
<line x1="228" y1="236.6" x2="231.4" y2="248.3" stroke="#ee2b1d" stroke-width="1.22" stroke-linecap="round"/>
<line x1="231.4" y1="248.3" x2="220.4" y2="253.2" stroke="#ee2b1d" stroke-width="1.22" stroke-linecap="round"/>
<line x1="220.4" y1="253.2" x2="204.4" y2="246.3" stroke="#111111" stroke-width="1.3" stroke-linecap="round"/>
<polygon points="228,236.6 237.22,235.58 236.78,233.62" fill="#ee2b1d" stroke="#ee2b1d" stroke-width="0.35" stroke-linejoin="round"/>
<polygon points="231.4,248.3 239.8,238.59 238.2,237.41" fill="#ee2b1d" stroke="#ee2b1d" stroke-width="0.35" stroke-linejoin="round"/>
<text x="241.8" y="236.8" fill="#ee2b1d" stroke="#ee2b1d" stroke-width="0.3" font-size="9.0" font-weight="bold" text-anchor="middle">O</text>
<line x1="219.38" y1="254.27" x2="221.08" y2="261.87" stroke="#ee2b1d" stroke-width="1.22" stroke-linecap="round"/>
<line x1="221.82" y1="253.73" x2="223.52" y2="261.33" stroke="#ee2b1d" stroke-width="1.22" stroke-linecap="round"/>
<text x="223.5" y="269.3" fill="#ee2b1d" stroke="#ee2b1d" stroke-width="0.3" font-size="9.0" font-weight="bold" text-anchor="middle">O</text>
<text x="136" y="294.6" fill="#111111" stroke="#111111" stroke-width="0.1" font-size="12.7" font-weight="bold" text-anchor="middle">gymnastatin G</text>
<polyline points="285.7,231.8 295.9,226.4 308.67,233.4 321.44,226.4 334.21,233.4 346.98,226.4 359.75,233.4 372.52,226.4" fill="none" stroke="#111111" stroke-width="1.3" stroke-linecap="round" stroke-linejoin="round"/>
<line x1="372.52" y1="226.4" x2="385.29" y2="233.4" stroke="#ee2b1d" stroke-width="1.22" stroke-linecap="round"/>
<line x1="372.94" y1="229.59" x2="382.37" y2="234.77" stroke="#ee2b1d" stroke-width="1.22" stroke-linecap="round"/>
<line x1="385.29" y1="233.4" x2="398.06" y2="226.4" stroke="#ee2b1d" stroke-width="1.22" stroke-linecap="round"/>
<line x1="398.06" y1="226.4" x2="410.83" y2="233.4" stroke="#ee2b1d" stroke-width="1.22" stroke-linecap="round"/>
<line x1="398.48" y1="229.59" x2="407.91" y2="234.77" stroke="#ee2b1d" stroke-width="1.22" stroke-linecap="round"/>
<line x1="410.83" y1="233.4" x2="423.6" y2="226.4" stroke="#ee2b1d" stroke-width="1.22" stroke-linecap="round"/>
<line x1="425.1" y1="225.8" x2="425.1" y2="216.1" stroke="#ee2b1d" stroke-width="1.22" stroke-linecap="round"/>
<line x1="422.5" y1="225.8" x2="422.5" y2="216.1" stroke="#ee2b1d" stroke-width="1.22" stroke-linecap="round"/>
<text x="423.4" y="214.4" fill="#ee2b1d" stroke="#ee2b1d" stroke-width="0.3" font-size="9.0" font-weight="bold" text-anchor="middle">O</text>
<text x="285.1" y="236.4" fill="#111111" stroke="#111111" stroke-width="0.3" font-size="9.0" font-weight="bold" text-anchor="end">Me</text>
<line x1="359.09" y1="235.32" x2="360.41" y2="235.32" stroke="#111111" stroke-width="1.3" stroke-linecap="butt"/>
<line x1="358.95" y1="237.16" x2="360.55" y2="237.16" stroke="#111111" stroke-width="1.3" stroke-linecap="butt"/>
<line x1="358.81" y1="239" x2="360.69" y2="239" stroke="#111111" stroke-width="1.3" stroke-linecap="butt"/>
<line x1="358.66" y1="240.84" x2="360.84" y2="240.84" stroke="#111111" stroke-width="1.3" stroke-linecap="butt"/>
<line x1="358.52" y1="242.68" x2="360.98" y2="242.68" stroke="#111111" stroke-width="1.3" stroke-linecap="butt"/>
<text x="356.55" y="251" fill="#111111" stroke="#111111" stroke-width="0.3" font-size="9.0" font-weight="bold" text-anchor="start">Me</text>
<line x1="385.29" y1="233.4" x2="385.29" y2="243.2" stroke="#111111" stroke-width="1.3" stroke-linecap="round"/>
<text x="382.49" y="251" fill="#111111" stroke="#111111" stroke-width="0.3" font-size="9.0" font-weight="bold" text-anchor="start">Me</text>
<line x1="423.6" y1="226.4" x2="435.6" y2="233.24" stroke="#111111" stroke-width="1.3" stroke-linecap="round"/>
<text x="441.1" y="238.7" fill="#111111" stroke="#111111" stroke-width="0.3" font-size="9.0" font-weight="bold" text-anchor="middle">N</text>
<text x="441.1" y="246.7" fill="#111111" stroke="#111111" stroke-width="0.3" font-size="9.0" font-weight="bold" text-anchor="middle">H</text>
<polygon points="455.1,241.7 446.47,236.84 445.53,239.16" fill="#111111" stroke="#111111" stroke-width="0.35" stroke-linejoin="round"/>
<polyline points="455.1,241.7 466.4,234.2 472.2,233.5" fill="none" stroke="#111111" stroke-width="1.3" stroke-linecap="round" stroke-linejoin="round"/>
<line x1="478.6" y1="233.4" x2="484.4" y2="233.4" stroke="#111111" stroke-width="1.3" stroke-linecap="round"/>
<line x1="455.1" y1="241.7" x2="459.5" y2="253.9" stroke="#111111" stroke-width="1.3" stroke-linecap="round"/>
<line x1="459.5" y1="253.9" x2="475.4" y2="248.4" stroke="#111111" stroke-width="1.3" stroke-linecap="round"/>
<line x1="475.4" y1="248.4" x2="475.4" y2="223.4" stroke="#111111" stroke-width="1.8" stroke-linecap="round"/>
<line x1="475.4" y1="223.4" x2="484.4" y2="233.4" stroke="#111111" stroke-width="1.3" stroke-linecap="round"/>
<line x1="475.4" y1="223.4" x2="465.9" y2="221.9" stroke="#111111" stroke-width="1.3" stroke-linecap="round"/>
<text x="461" y="223.1" fill="#111111" stroke="#111111" stroke-width="0.3" font-size="9.0" font-weight="bold" text-anchor="middle">H</text>
<polygon points="475.4,248.4 472.81,258.34 475.19,258.66" fill="#111111" stroke="#111111" stroke-width="0.35" stroke-linejoin="round"/>
<text x="469.9" y="266.4" fill="#111111" stroke="#111111" stroke-width="0.3" font-size="9.0" font-weight="bold" text-anchor="start">Cl</text>
<line x1="485.72" y1="233.45" x2="484.42" y2="232.08" stroke="#111111" stroke-width="1.3" stroke-linecap="butt"/>
<line x1="487.17" y1="232.31" x2="485.63" y2="230.69" stroke="#111111" stroke-width="1.3" stroke-linecap="butt"/>
<line x1="488.62" y1="231.17" x2="486.84" y2="229.3" stroke="#111111" stroke-width="1.3" stroke-linecap="butt"/>
<line x1="490.08" y1="230.03" x2="488.06" y2="227.9" stroke="#111111" stroke-width="1.3" stroke-linecap="butt"/>
<line x1="491.53" y1="228.89" x2="489.27" y2="226.51" stroke="#111111" stroke-width="1.3" stroke-linecap="butt"/>
<line x1="492.98" y1="227.75" x2="490.48" y2="225.12" stroke="#111111" stroke-width="1.3" stroke-linecap="butt"/>
<text x="492.3" y="226.7" fill="#111111" stroke="#111111" stroke-width="0.3" font-size="9.0" font-weight="bold" text-anchor="start">OH</text>
<line x1="459.5" y1="253.9" x2="449.8" y2="253.6" stroke="#111111" stroke-width="1.3" stroke-linecap="round"/>
<text x="445.8" y="257" fill="#111111" stroke="#111111" stroke-width="0.3" font-size="9.0" font-weight="bold" text-anchor="middle">H</text>
<line x1="459.5" y1="253.9" x2="459.6" y2="263.6" stroke="#111111" stroke-width="1.3" stroke-linecap="round"/>
<text x="450.5" y="272.4" fill="#111111" stroke="#111111" stroke-width="0.3" font-size="9.0" font-weight="bold" text-anchor="start">HO</text>
<line x1="475.4" y1="223.4" x2="482" y2="214" stroke="#111111" stroke-width="1.3" stroke-linecap="round"/>
<text x="482.2" y="214.6" fill="#111111" stroke="#111111" stroke-width="0.3" font-size="9.0" font-weight="bold" text-anchor="start">OMe</text>
<line x1="484.4" y1="233.4" x2="497.7" y2="239.6" stroke="#111111" stroke-width="1.3" stroke-linecap="round"/>
<line x1="497.7" y1="239.6" x2="501.7" y2="250.9" stroke="#ee2b1d" stroke-width="1.22" stroke-linecap="round"/>
<line x1="495.88" y1="242.26" x2="498.62" y2="249.98" stroke="#ee2b1d" stroke-width="1.22" stroke-linecap="round"/>
<line x1="501.7" y1="250.9" x2="511.3" y2="255.1" stroke="#ee2b1d" stroke-width="1.22" stroke-linecap="round"/>
<text x="513.1" y="260.3" fill="#ee2b1d" stroke="#ee2b1d" stroke-width="0.3" font-size="9.0" font-weight="bold" text-anchor="start">Cl</text>
<line x1="501.7" y1="250.9" x2="490.9" y2="256.2" stroke="#ee2b1d" stroke-width="1.22" stroke-linecap="round"/>
<line x1="490.9" y1="256.2" x2="475.4" y2="248.4" stroke="#111111" stroke-width="1.3" stroke-linecap="round"/>
<line x1="489.88" y1="257.28" x2="491.58" y2="264.68" stroke="#ee2b1d" stroke-width="1.22" stroke-linecap="round"/>
<line x1="492.32" y1="256.72" x2="494.02" y2="264.12" stroke="#ee2b1d" stroke-width="1.22" stroke-linecap="round"/>
<text x="494.2" y="271.6" fill="#ee2b1d" stroke="#ee2b1d" stroke-width="0.3" font-size="9.0" font-weight="bold" text-anchor="middle">O</text>
<text x="409.5" y="294.4" fill="#111111" stroke="#111111" stroke-width="0.1" font-size="12.7" font-weight="bold" text-anchor="middle">gymnastatin Q</text>
</g>
<g id="plots">
<path d="M83.15,478.15 V624.15 M76.95,624.15 H230.7" fill="none" stroke="#1a1a1a" stroke-width="1.6"/>
<text x="74.25" y="629.6" fill="#1a1a1a" stroke="#1a1a1a" stroke-width="0.35" font-size="17.5" font-weight="normal" text-anchor="end">0</text>
<line x1="76.95" y1="593.75" x2="83.15" y2="593.75" stroke="#1a1a1a" stroke-width="1.6"/>
<text x="74.25" y="599.2" fill="#1a1a1a" stroke="#1a1a1a" stroke-width="0.35" font-size="17.5" font-weight="normal" text-anchor="end">25</text>
<line x1="76.95" y1="563.35" x2="83.15" y2="563.35" stroke="#1a1a1a" stroke-width="1.6"/>
<text x="74.25" y="568.8" fill="#1a1a1a" stroke="#1a1a1a" stroke-width="0.35" font-size="17.5" font-weight="normal" text-anchor="end">50</text>
<line x1="76.95" y1="532.95" x2="83.15" y2="532.95" stroke="#1a1a1a" stroke-width="1.6"/>
<text x="74.25" y="538.4" fill="#1a1a1a" stroke="#1a1a1a" stroke-width="0.35" font-size="17.5" font-weight="normal" text-anchor="end">75</text>
<line x1="76.95" y1="502.55" x2="83.15" y2="502.55" stroke="#1a1a1a" stroke-width="1.6"/>
<text x="74.25" y="508" fill="#1a1a1a" stroke="#1a1a1a" stroke-width="0.35" font-size="17.5" font-weight="normal" text-anchor="end">100</text>
<line x1="83.15" y1="624.15" x2="83.15" y2="630.75" stroke="#1a1a1a" stroke-width="1.6"/>
<text transform="translate(88.15,646.55) rotate(-45)" text-anchor="end" font-size="16.8" fill="#1a1a1a" stroke="#1a1a1a" stroke-width="0.35">10<tspan dy="-5.6" font-size="13.5">-4</tspan></text>
<line x1="107.62" y1="624.15" x2="107.62" y2="630.75" stroke="#1a1a1a" stroke-width="1.6"/>
<text transform="translate(112.62,646.55) rotate(-45)" text-anchor="end" font-size="16.8" fill="#1a1a1a" stroke="#1a1a1a" stroke-width="0.35">10<tspan dy="-5.6" font-size="13.5">-3</tspan></text>
<line x1="132.1" y1="624.15" x2="132.1" y2="630.75" stroke="#1a1a1a" stroke-width="1.6"/>
<text transform="translate(137.1,646.55) rotate(-45)" text-anchor="end" font-size="16.8" fill="#1a1a1a" stroke="#1a1a1a" stroke-width="0.35">10<tspan dy="-5.6" font-size="13.5">-2</tspan></text>
<line x1="156.57" y1="624.15" x2="156.57" y2="630.75" stroke="#1a1a1a" stroke-width="1.6"/>
<text transform="translate(161.57,646.55) rotate(-45)" text-anchor="end" font-size="16.8" fill="#1a1a1a" stroke="#1a1a1a" stroke-width="0.35">10<tspan dy="-5.6" font-size="13.5">-1</tspan></text>
<line x1="181.05" y1="624.15" x2="181.05" y2="630.75" stroke="#1a1a1a" stroke-width="1.6"/>
<text transform="translate(186.05,646.55) rotate(-45)" text-anchor="end" font-size="16.8" fill="#1a1a1a" stroke="#1a1a1a" stroke-width="0.35">10<tspan dy="-5.6" font-size="13.5">0</tspan></text>
<line x1="205.52" y1="624.15" x2="205.52" y2="630.75" stroke="#1a1a1a" stroke-width="1.6"/>
<text transform="translate(210.52,646.55) rotate(-45)" text-anchor="end" font-size="16.8" fill="#1a1a1a" stroke="#1a1a1a" stroke-width="0.35">10<tspan dy="-5.6" font-size="13.5">1</tspan></text>
<line x1="230" y1="624.15" x2="230" y2="630.75" stroke="#1a1a1a" stroke-width="1.6"/>
<text transform="translate(235,646.55) rotate(-45)" text-anchor="end" font-size="16.8" fill="#1a1a1a" stroke="#1a1a1a" stroke-width="0.35">10<tspan dy="-5.6" font-size="13.5">2</tspan></text>
<text x="157.6" y="456.65" fill="#1a1a1a" stroke="#1a1a1a" stroke-width="0.35" font-size="17.9" font-weight="normal" text-anchor="middle">dankastatin B</text>
<text x="156.9" y="693.35" fill="#1a1a1a" stroke="#1a1a1a" stroke-width="0.35" font-size="18" font-weight="normal" text-anchor="middle">concentrations (<tspan font-family="'Liberation Serif','DejaVu Serif',serif" font-size="18">μ</tspan>M)</text>
<text transform="translate(36.3,547.15) rotate(-90)" text-anchor="middle" font-size="17.5" fill="#1a1a1a" stroke="#1a1a1a" stroke-width="0.35">% proliferation</text>
<polyline points="107.62,624.15 108.44,624.15 109.26,624.15 110.07,624.15 110.89,624.15 111.7,624.15 112.52,624.15 113.34,624.15 114.15,624.15 114.97,624.15 115.78,624.15 116.6,624.15 117.41,624.15 118.23,624.15 119.05,624.15 119.86,624.15 120.68,624.15 121.49,624.15 122.31,624.15 123.13,624.15 123.94,624.15 124.76,624.15 125.57,624.15 126.39,624.15 127.2,624.15 128.02,624.15 128.84,624.15 129.65,624.15 130.47,624.15 131.28,624.15 132.1,624.15 132.92,624.15 133.73,624.15 134.55,624.15 135.36,624.15 136.18,624.15 137,624.15 137.81,624.15 138.63,624.15 139.44,624.15 140.26,624.15 141.07,624.15 141.89,624.15 142.71,624.15 143.52,624.15 144.34,624.15 145.15,624.15 145.97,624.15 146.78,624.15 147.6,624.15 148.42,624.15 149.23,624.15 150.05,624.15 150.86,624.14 151.68,624.14 152.5,624.14 153.31,624.13 154.13,624.12 154.94,624.11 155.76,624.1 156.57,624.08 157.39,624.06 158.21,624.02 159.02,623.97 159.84,623.89 160.65,623.8 161.47,623.66 162.29,623.47 163.1,623.2 163.92,622.83 164.73,622.32 165.55,621.63 166.37,620.67 167.18,619.36 168,617.58 168.81,615.21 169.63,612.06 170.44,607.96 171.26,602.74 172.08,596.29 172.89,588.58 173.71,579.75 174.52,570.11 175.34,560.1 176.15,550.28 176.97,541.11 177.79,532.99 178.6,526.09 179.42,520.44 180.23,515.97 181.05,512.51 181.87,509.88 182.68,507.91 183.5,506.45 184.31,505.38 185.13,504.6 185.94,504.03 186.76,503.62 187.58,503.32 188.39,503.1 189.21,502.95 190.02,502.84 190.84,502.76 191.66,502.7 192.47,502.66 193.29,502.63 194.1,502.61 194.92,502.59 195.73,502.58 196.55,502.57 197.37,502.56 198.18,502.56 199,502.56 199.81,502.56 200.63,502.55 201.45,502.55 202.26,502.55 203.08,502.55 203.89,502.55 204.71,502.55 205.52,502.55" fill="none" stroke="#4864ba" stroke-width="1.7" stroke-linejoin="round"/>
<path d="M107.62,609.19 V618.19 M103.92,609.19 h7.4 M103.92,618.19 h7.4" fill="none" stroke="#4864ba" stroke-width="1"/>
<path d="M132.1,618.68 V624.15 M128.4,618.68 h7.4" fill="none" stroke="#4864ba" stroke-width="1"/>
<path d="M156.57,619.29 V624.15 M152.88,619.29 h7.4" fill="none" stroke="#4864ba" stroke-width="1"/>
<circle cx="107.62" cy="613.69" r="3.6" fill="#4864ba"/>
<circle cx="132.1" cy="624.15" r="3.6" fill="#4864ba"/>
<circle cx="156.57" cy="624.15" r="3.6" fill="#4864ba"/>
<circle cx="181.05" cy="512.28" r="3.6" fill="#4864ba"/>
<circle cx="205.52" cy="509.85" r="3.6" fill="#4864ba"/>
<line x1="159.9" y1="562" x2="194.7" y2="562" stroke="#111" stroke-width="2.2"/>
<text x="206.2" y="579.8" fill="#1a1a1a" stroke="#1a1a1a" stroke-width="0.35" font-size="15.9" font-weight="normal" text-anchor="middle">EC50</text>
<text x="206.2" y="598" fill="#1a1a1a" stroke="#1a1a1a" stroke-width="0.35" font-size="15.9" font-weight="normal" text-anchor="middle">0.57 <tspan font-family="'Liberation Serif','DejaVu Serif',serif">μ</tspan>M</text>
<path d="M340.6,478.15 V624.15 M334.4,624.15 H487.8" fill="none" stroke="#1a1a1a" stroke-width="1.6"/>
<text x="331.7" y="629.6" fill="#1a1a1a" stroke="#1a1a1a" stroke-width="0.35" font-size="17.5" font-weight="normal" text-anchor="end">0</text>
<line x1="334.4" y1="593.75" x2="340.6" y2="593.75" stroke="#1a1a1a" stroke-width="1.6"/>
<text x="331.7" y="599.2" fill="#1a1a1a" stroke="#1a1a1a" stroke-width="0.35" font-size="17.5" font-weight="normal" text-anchor="end">25</text>
<line x1="334.4" y1="563.35" x2="340.6" y2="563.35" stroke="#1a1a1a" stroke-width="1.6"/>
<text x="331.7" y="568.8" fill="#1a1a1a" stroke="#1a1a1a" stroke-width="0.35" font-size="17.5" font-weight="normal" text-anchor="end">50</text>
<line x1="334.4" y1="532.95" x2="340.6" y2="532.95" stroke="#1a1a1a" stroke-width="1.6"/>
<text x="331.7" y="538.4" fill="#1a1a1a" stroke="#1a1a1a" stroke-width="0.35" font-size="17.5" font-weight="normal" text-anchor="end">75</text>
<line x1="334.4" y1="502.55" x2="340.6" y2="502.55" stroke="#1a1a1a" stroke-width="1.6"/>
<text x="331.7" y="508" fill="#1a1a1a" stroke="#1a1a1a" stroke-width="0.35" font-size="17.5" font-weight="normal" text-anchor="end">100</text>
<line x1="340.6" y1="624.15" x2="340.6" y2="630.75" stroke="#1a1a1a" stroke-width="1.6"/>
<text transform="translate(345.6,646.55) rotate(-45)" text-anchor="end" font-size="16.8" fill="#1a1a1a" stroke="#1a1a1a" stroke-width="0.35">10<tspan dy="-5.6" font-size="13.5">-3</tspan></text>
<line x1="369.9" y1="624.15" x2="369.9" y2="630.75" stroke="#1a1a1a" stroke-width="1.6"/>
<text transform="translate(374.9,646.55) rotate(-45)" text-anchor="end" font-size="16.8" fill="#1a1a1a" stroke="#1a1a1a" stroke-width="0.35">10<tspan dy="-5.6" font-size="13.5">-2</tspan></text>
<line x1="399.2" y1="624.15" x2="399.2" y2="630.75" stroke="#1a1a1a" stroke-width="1.6"/>
<text transform="translate(404.2,646.55) rotate(-45)" text-anchor="end" font-size="16.8" fill="#1a1a1a" stroke="#1a1a1a" stroke-width="0.35">10<tspan dy="-5.6" font-size="13.5">-1</tspan></text>
<line x1="428.5" y1="624.15" x2="428.5" y2="630.75" stroke="#1a1a1a" stroke-width="1.6"/>
<text transform="translate(433.5,646.55) rotate(-45)" text-anchor="end" font-size="16.8" fill="#1a1a1a" stroke="#1a1a1a" stroke-width="0.35">10<tspan dy="-5.6" font-size="13.5">0</tspan></text>
<line x1="457.8" y1="624.15" x2="457.8" y2="630.75" stroke="#1a1a1a" stroke-width="1.6"/>
<text transform="translate(462.8,646.55) rotate(-45)" text-anchor="end" font-size="16.8" fill="#1a1a1a" stroke="#1a1a1a" stroke-width="0.35">10<tspan dy="-5.6" font-size="13.5">1</tspan></text>
<line x1="487.1" y1="624.15" x2="487.1" y2="630.75" stroke="#1a1a1a" stroke-width="1.6"/>
<text transform="translate(492.1,646.55) rotate(-45)" text-anchor="end" font-size="16.8" fill="#1a1a1a" stroke="#1a1a1a" stroke-width="0.35">10<tspan dy="-5.6" font-size="13.5">2</tspan></text>
<text x="414.4" y="456.65" fill="#1a1a1a" stroke="#1a1a1a" stroke-width="0.35" font-size="17.9" font-weight="normal" text-anchor="middle">aranarosin</text>
<text x="414.7" y="693.35" fill="#1a1a1a" stroke="#1a1a1a" stroke-width="0.35" font-size="18" font-weight="normal" text-anchor="middle">concentrations (<tspan font-family="'Liberation Serif','DejaVu Serif',serif" font-size="18">μ</tspan>M)</text>
<text transform="translate(293.4,547.15) rotate(-90)" text-anchor="middle" font-size="17.5" fill="#1a1a1a" stroke="#1a1a1a" stroke-width="0.35">% proliferation</text>
<polyline points="369.9,624.14 370.8,624.14 371.71,624.13 372.61,624.13 373.51,624.13 374.42,624.13 375.32,624.12 376.22,624.12 377.13,624.11 378.03,624.11 378.93,624.1 379.83,624.1 380.74,624.09 381.64,624.08 382.54,624.07 383.45,624.06 384.35,624.05 385.25,624.04 386.16,624.02 387.06,624 387.96,623.98 388.87,623.96 389.77,623.93 390.67,623.9 391.58,623.87 392.48,623.83 393.38,623.79 394.29,623.74 395.19,623.68 396.09,623.62 396.99,623.55 397.9,623.47 398.8,623.37 399.7,623.27 400.61,623.15 401.51,623.01 402.41,622.86 403.32,622.69 404.22,622.49 405.12,622.27 406.03,622.02 406.93,621.73 407.83,621.41 408.74,621.04 409.64,620.63 410.54,620.17 411.45,619.65 412.35,619.06 413.25,618.4 414.16,617.66 415.06,616.83 415.96,615.9 416.86,614.86 417.77,613.7 418.67,612.41 419.57,610.99 420.48,609.41 421.38,607.67 422.28,605.77 423.19,603.68 424.09,601.41 424.99,598.96 425.9,596.31 426.8,593.47 427.7,590.45 428.61,587.25 429.51,583.89 430.41,580.38 431.32,576.74 432.22,573 433.12,569.18 434.02,565.31 434.93,561.43 435.83,557.56 436.73,553.74 437.64,550 438.54,546.36 439.44,542.84 440.35,539.48 441.25,536.28 442.15,533.25 443.06,530.42 443.96,527.77 444.86,525.31 445.77,523.04 446.67,520.95 447.57,519.05 448.48,517.31 449.38,515.73 450.28,514.3 451.18,513.01 452.09,511.85 452.99,510.81 453.89,509.88 454.8,509.05 455.7,508.31 456.6,507.65 457.51,507.06 458.41,506.53 459.31,506.07 460.22,505.66 461.12,505.29 462.02,504.97 462.93,504.69 463.83,504.43 464.73,504.21 465.64,504.01 466.54,503.84 467.44,503.69 468.35,503.55 469.25,503.43 470.15,503.33 471.05,503.23 471.96,503.15 472.86,503.08 473.76,503.02 474.67,502.96 475.57,502.91 476.47,502.87 477.38,502.83 478.28,502.8" fill="none" stroke="#4864ba" stroke-width="1.7" stroke-linejoin="round"/>
<path d="M428.5,580.74 V592.9 M424.8,580.74 h7.4 M424.8,592.9 h7.4" fill="none" stroke="#4864ba" stroke-width="1"/>
<circle cx="369.9" cy="624.15" r="3.6" fill="#4864ba"/>
<circle cx="399.2" cy="623.54" r="3.6" fill="#4864ba"/>
<circle cx="428.5" cy="586.82" r="3.6" fill="#4864ba"/>
<circle cx="457.8" cy="506.2" r="3.6" fill="#4864ba"/>
<circle cx="478.28" cy="512.89" r="3.6" fill="#4864ba"/>
<line x1="417.1" y1="561.8" x2="453.1" y2="561.8" stroke="#111" stroke-width="2.2"/>
<text x="463.9" y="579.7" fill="#1a1a1a" stroke="#1a1a1a" stroke-width="0.35" font-size="15.9" font-weight="normal" text-anchor="middle">EC50</text>
<text x="463.5" y="597.5" fill="#1a1a1a" stroke="#1a1a1a" stroke-width="0.35" font-size="15.9" font-weight="normal" text-anchor="middle">1.6 <tspan font-family="'Liberation Serif','DejaVu Serif',serif">μ</tspan>M</text>
<path d="M598.7,478.15 V624.15 M592.5,624.15 H745.7" fill="none" stroke="#1a1a1a" stroke-width="1.6"/>
<text x="589.8" y="629.6" fill="#1a1a1a" stroke="#1a1a1a" stroke-width="0.35" font-size="17.5" font-weight="normal" text-anchor="end">0</text>
<line x1="592.5" y1="593.75" x2="598.7" y2="593.75" stroke="#1a1a1a" stroke-width="1.6"/>
<text x="589.8" y="599.2" fill="#1a1a1a" stroke="#1a1a1a" stroke-width="0.35" font-size="17.5" font-weight="normal" text-anchor="end">25</text>
<line x1="592.5" y1="563.35" x2="598.7" y2="563.35" stroke="#1a1a1a" stroke-width="1.6"/>
<text x="589.8" y="568.8" fill="#1a1a1a" stroke="#1a1a1a" stroke-width="0.35" font-size="17.5" font-weight="normal" text-anchor="end">50</text>
<line x1="592.5" y1="532.95" x2="598.7" y2="532.95" stroke="#1a1a1a" stroke-width="1.6"/>
<text x="589.8" y="538.4" fill="#1a1a1a" stroke="#1a1a1a" stroke-width="0.35" font-size="17.5" font-weight="normal" text-anchor="end">75</text>
<line x1="592.5" y1="502.55" x2="598.7" y2="502.55" stroke="#1a1a1a" stroke-width="1.6"/>
<text x="589.8" y="508" fill="#1a1a1a" stroke="#1a1a1a" stroke-width="0.35" font-size="17.5" font-weight="normal" text-anchor="end">100</text>
<line x1="598.7" y1="624.15" x2="598.7" y2="630.75" stroke="#1a1a1a" stroke-width="1.6"/>
<text transform="translate(603.7,646.55) rotate(-45)" text-anchor="end" font-size="16.8" fill="#1a1a1a" stroke="#1a1a1a" stroke-width="0.35">10<tspan dy="-5.6" font-size="13.5">-3</tspan></text>
<line x1="627.96" y1="624.15" x2="627.96" y2="630.75" stroke="#1a1a1a" stroke-width="1.6"/>
<text transform="translate(632.96,646.55) rotate(-45)" text-anchor="end" font-size="16.8" fill="#1a1a1a" stroke="#1a1a1a" stroke-width="0.35">10<tspan dy="-5.6" font-size="13.5">-2</tspan></text>
<line x1="657.22" y1="624.15" x2="657.22" y2="630.75" stroke="#1a1a1a" stroke-width="1.6"/>
<text transform="translate(662.22,646.55) rotate(-45)" text-anchor="end" font-size="16.8" fill="#1a1a1a" stroke="#1a1a1a" stroke-width="0.35">10<tspan dy="-5.6" font-size="13.5">-1</tspan></text>
<line x1="686.48" y1="624.15" x2="686.48" y2="630.75" stroke="#1a1a1a" stroke-width="1.6"/>
<text transform="translate(691.48,646.55) rotate(-45)" text-anchor="end" font-size="16.8" fill="#1a1a1a" stroke="#1a1a1a" stroke-width="0.35">10<tspan dy="-5.6" font-size="13.5">0</tspan></text>
<line x1="715.74" y1="624.15" x2="715.74" y2="630.75" stroke="#1a1a1a" stroke-width="1.6"/>
<text transform="translate(720.74,646.55) rotate(-45)" text-anchor="end" font-size="16.8" fill="#1a1a1a" stroke="#1a1a1a" stroke-width="0.35">10<tspan dy="-5.6" font-size="13.5">1</tspan></text>
<line x1="745" y1="624.15" x2="745" y2="630.75" stroke="#1a1a1a" stroke-width="1.6"/>
<text transform="translate(750,646.55) rotate(-45)" text-anchor="end" font-size="16.8" fill="#1a1a1a" stroke="#1a1a1a" stroke-width="0.35">10<tspan dy="-5.6" font-size="13.5">2</tspan></text>
<text x="672.3" y="456.65" fill="#1a1a1a" stroke="#1a1a1a" stroke-width="0.35" font-size="17.9" font-weight="normal" text-anchor="middle">gymnastatin A</text>
<text x="671" y="693.35" fill="#1a1a1a" stroke="#1a1a1a" stroke-width="0.35" font-size="18" font-weight="normal" text-anchor="middle">concentrations (<tspan font-family="'Liberation Serif','DejaVu Serif',serif" font-size="18">μ</tspan>M)</text>
<text transform="translate(551.5,547.15) rotate(-90)" text-anchor="middle" font-size="17.5" fill="#1a1a1a" stroke="#1a1a1a" stroke-width="0.35">% proliferation</text>
<polyline points="627.96,624 628.86,623.99 629.76,623.97 630.67,623.95 631.57,623.94 632.47,623.92 633.37,623.9 634.27,623.87 635.18,623.85 636.08,623.82 636.98,623.79 637.88,623.75 638.78,623.72 639.69,623.68 640.59,623.63 641.49,623.59 642.39,623.53 643.29,623.48 644.19,623.41 645.1,623.35 646,623.27 646.9,623.19 647.8,623.1 648.7,623.01 649.61,622.9 650.51,622.79 651.41,622.66 652.31,622.53 653.21,622.38 654.12,622.22 655.02,622.04 655.92,621.85 656.82,621.64 657.72,621.41 658.63,621.17 659.53,620.9 660.43,620.6 661.33,620.29 662.23,619.94 663.14,619.56 664.04,619.16 664.94,618.72 665.84,618.24 666.74,617.72 667.65,617.15 668.55,616.55 669.45,615.89 670.35,615.18 671.25,614.42 672.15,613.59 673.06,612.71 673.96,611.76 674.86,610.73 675.76,609.64 676.66,608.47 677.57,607.22 678.47,605.89 679.37,604.47 680.27,602.97 681.17,601.38 682.08,599.7 682.98,597.93 683.88,596.07 684.78,594.11 685.68,592.07 686.59,589.95 687.49,587.74 688.39,585.45 689.29,583.09 690.19,580.67 691.1,578.18 692,575.64 692.9,573.06 693.8,570.45 694.7,567.81 695.6,565.16 696.51,562.5 697.41,559.85 698.31,557.22 699.21,554.61 700.11,552.05 701.02,549.52 701.92,547.06 702.82,544.65 703.72,542.32 704.62,540.05 705.53,537.87 706.43,535.77 707.33,533.76 708.23,531.84 709.13,530.01 710.04,528.26 710.94,526.61 711.84,525.05 712.74,523.58 713.64,522.19 714.55,520.88 715.45,519.66 716.35,518.52 717.25,517.45 718.15,516.45 719.06,515.52 719.96,514.65 720.86,513.85 721.76,513.1 722.66,512.41 723.56,511.77 724.47,511.18 725.37,510.63 726.27,510.13 727.17,509.66 728.07,509.23 728.98,508.83 729.88,508.47 730.78,508.13 731.68,507.82 732.58,507.54 733.49,507.27 734.39,507.03 735.29,506.81 736.19,506.61" fill="none" stroke="#4864ba" stroke-width="1.7" stroke-linejoin="round"/>
<path d="M686.48,570.65 V611.99 M682.78,570.65 h7.4 M682.78,611.99 h7.4" fill="none" stroke="#4864ba" stroke-width="1"/>
<path d="M715.74,506.2 V525.65 M712.04,506.2 h7.4 M712.04,525.65 h7.4" fill="none" stroke="#4864ba" stroke-width="1"/>
<circle cx="627.96" cy="615.03" r="3.6" fill="#4864ba"/>
<circle cx="657.22" cy="611.99" r="3.6" fill="#4864ba"/>
<circle cx="686.48" cy="591.32" r="3.6" fill="#4864ba"/>
<circle cx="715.74" cy="515.93" r="3.6" fill="#4864ba"/>
<circle cx="736.19" cy="510.45" r="3.6" fill="#4864ba"/>
<line x1="675.3" y1="561.5" x2="710.5" y2="561.5" stroke="#111" stroke-width="2.2"/>
<text x="721.5" y="579.4" fill="#1a1a1a" stroke="#1a1a1a" stroke-width="0.35" font-size="15.9" font-weight="normal" text-anchor="middle">EC50</text>
<text x="721.8" y="597.7" fill="#1a1a1a" stroke="#1a1a1a" stroke-width="0.35" font-size="15.9" font-weight="normal" text-anchor="middle">2.1 <tspan font-family="'Liberation Serif','DejaVu Serif',serif">μ</tspan>M</text>
<path d="M83.3,777.2 V923.2 M77.1,923.2 H231.2" fill="none" stroke="#1a1a1a" stroke-width="1.6"/>
<text x="74.4" y="928.65" fill="#1a1a1a" stroke="#1a1a1a" stroke-width="0.35" font-size="17.5" font-weight="normal" text-anchor="end">0</text>
<line x1="77.1" y1="892.8" x2="83.3" y2="892.8" stroke="#1a1a1a" stroke-width="1.6"/>
<text x="74.4" y="898.25" fill="#1a1a1a" stroke="#1a1a1a" stroke-width="0.35" font-size="17.5" font-weight="normal" text-anchor="end">25</text>
<line x1="77.1" y1="862.4" x2="83.3" y2="862.4" stroke="#1a1a1a" stroke-width="1.6"/>
<text x="74.4" y="867.85" fill="#1a1a1a" stroke="#1a1a1a" stroke-width="0.35" font-size="17.5" font-weight="normal" text-anchor="end">50</text>
<line x1="77.1" y1="832" x2="83.3" y2="832" stroke="#1a1a1a" stroke-width="1.6"/>
<text x="74.4" y="837.45" fill="#1a1a1a" stroke="#1a1a1a" stroke-width="0.35" font-size="17.5" font-weight="normal" text-anchor="end">75</text>
<line x1="77.1" y1="801.6" x2="83.3" y2="801.6" stroke="#1a1a1a" stroke-width="1.6"/>
<text x="74.4" y="807.05" fill="#1a1a1a" stroke="#1a1a1a" stroke-width="0.35" font-size="17.5" font-weight="normal" text-anchor="end">100</text>
<line x1="83.3" y1="923.2" x2="83.3" y2="929.8" stroke="#1a1a1a" stroke-width="1.6"/>
<text transform="translate(88.3,945.6) rotate(-45)" text-anchor="end" font-size="16.8" fill="#1a1a1a" stroke="#1a1a1a" stroke-width="0.35">10<tspan dy="-5.6" font-size="13.5">-3</tspan></text>
<line x1="112.74" y1="923.2" x2="112.74" y2="929.8" stroke="#1a1a1a" stroke-width="1.6"/>
<text transform="translate(117.74,945.6) rotate(-45)" text-anchor="end" font-size="16.8" fill="#1a1a1a" stroke="#1a1a1a" stroke-width="0.35">10<tspan dy="-5.6" font-size="13.5">-2</tspan></text>
<line x1="142.18" y1="923.2" x2="142.18" y2="929.8" stroke="#1a1a1a" stroke-width="1.6"/>
<text transform="translate(147.18,945.6) rotate(-45)" text-anchor="end" font-size="16.8" fill="#1a1a1a" stroke="#1a1a1a" stroke-width="0.35">10<tspan dy="-5.6" font-size="13.5">-1</tspan></text>
<line x1="171.62" y1="923.2" x2="171.62" y2="929.8" stroke="#1a1a1a" stroke-width="1.6"/>
<text transform="translate(176.62,945.6) rotate(-45)" text-anchor="end" font-size="16.8" fill="#1a1a1a" stroke="#1a1a1a" stroke-width="0.35">10<tspan dy="-5.6" font-size="13.5">0</tspan></text>
<line x1="201.06" y1="923.2" x2="201.06" y2="929.8" stroke="#1a1a1a" stroke-width="1.6"/>
<text transform="translate(206.06,945.6) rotate(-45)" text-anchor="end" font-size="16.8" fill="#1a1a1a" stroke="#1a1a1a" stroke-width="0.35">10<tspan dy="-5.6" font-size="13.5">1</tspan></text>
<line x1="230.5" y1="923.2" x2="230.5" y2="929.8" stroke="#1a1a1a" stroke-width="1.6"/>
<text transform="translate(235.5,945.6) rotate(-45)" text-anchor="end" font-size="16.8" fill="#1a1a1a" stroke="#1a1a1a" stroke-width="0.35">10<tspan dy="-5.6" font-size="13.5">2</tspan></text>
<text x="161" y="755.7" fill="#1a1a1a" stroke="#1a1a1a" stroke-width="0.35" font-size="17.9" font-weight="normal" text-anchor="middle">dankastatin C</text>
<text x="156.9" y="992.4" fill="#1a1a1a" stroke="#1a1a1a" stroke-width="0.35" font-size="18" font-weight="normal" text-anchor="middle">concentrations (<tspan font-family="'Liberation Serif','DejaVu Serif',serif" font-size="18">μ</tspan>M)</text>
<text transform="translate(36.3,846.2) rotate(-90)" text-anchor="middle" font-size="17.5" fill="#1a1a1a" stroke="#1a1a1a" stroke-width="0.35">% proliferation</text>
<polyline points="112.74,923.2 113.65,923.2 114.55,923.2 115.46,923.2 116.37,923.2 117.28,923.2 118.18,923.2 119.09,923.2 120,923.2 120.91,923.2 121.81,923.2 122.72,923.2 123.63,923.2 124.54,923.2 125.44,923.2 126.35,923.2 127.26,923.2 128.17,923.2 129.07,923.2 129.98,923.2 130.89,923.2 131.8,923.2 132.7,923.2 133.61,923.19 134.52,923.19 135.43,923.19 136.33,923.19 137.24,923.19 138.15,923.19 139.06,923.19 139.96,923.18 140.87,923.18 141.78,923.18 142.69,923.17 143.59,923.17 144.5,923.17 145.41,923.16 146.32,923.15 147.22,923.15 148.13,923.14 149.04,923.13 149.95,923.11 150.85,923.1 151.76,923.08 152.67,923.06 153.58,923.04 154.48,923.01 155.39,922.98 156.3,922.94 157.21,922.9 158.11,922.85 159.02,922.79 159.93,922.72 160.84,922.64 161.74,922.54 162.65,922.43 163.56,922.31 164.47,922.16 165.37,921.98 166.28,921.78 167.19,921.55 168.1,921.27 169,920.95 169.91,920.58 170.82,920.16 171.73,919.66 172.63,919.08 173.54,918.42 174.45,917.65 175.36,916.77 176.26,915.75 177.17,914.59 178.08,913.26 178.99,911.74 179.89,910.02 180.8,908.08 181.71,905.9 182.62,903.46 183.52,900.76 184.43,897.77 185.34,894.51 186.25,890.96 187.15,887.15 188.06,883.08 188.97,878.8 189.88,874.33 190.78,869.73 191.69,865.04 192.6,860.31 193.51,855.62 194.41,851 195.32,846.51 196.23,842.21 197.14,838.12 198.04,834.27 198.95,830.7 199.86,827.4 200.77,824.38 201.67,821.64 202.58,819.17 203.49,816.96 204.4,814.99 205.3,813.25 206.21,811.71 207.12,810.36 208.03,809.18 208.93,808.15 209.84,807.25 210.75,806.47 211.66,805.79 212.56,805.21 213.47,804.7 214.38,804.26 215.29,803.89 216.19,803.56 217.1,803.28 218.01,803.04 218.92,802.84 219.82,802.66 220.73,802.51 221.64,802.38" fill="none" stroke="#4864ba" stroke-width="1.7" stroke-linejoin="round"/>
<circle cx="112.74" cy="917.12" r="3.6" fill="#4864ba"/>
<circle cx="142.18" cy="923.2" r="3.6" fill="#4864ba"/>
<circle cx="171.62" cy="923.2" r="3.6" fill="#4864ba"/>
<circle cx="201.06" cy="823.49" r="3.6" fill="#4864ba"/>
<circle cx="221.64" cy="828.35" r="3.6" fill="#4864ba"/>
<line x1="176.1" y1="861" x2="211.5" y2="861" stroke="#111" stroke-width="2.2"/>
<text x="152.6" y="883.1" fill="#1a1a1a" stroke="#1a1a1a" stroke-width="0.35" font-size="15.9" font-weight="normal" text-anchor="middle">EC50</text>
<text x="153" y="900.8" fill="#1a1a1a" stroke="#1a1a1a" stroke-width="0.35" font-size="15.9" font-weight="normal" text-anchor="middle">5.0 <tspan font-family="'Liberation Serif','DejaVu Serif',serif">μ</tspan>M</text>
<path d="M340.6,777.2 V923.2 M334.4,923.2 H487.8" fill="none" stroke="#1a1a1a" stroke-width="1.6"/>
<text x="331.7" y="928.65" fill="#1a1a1a" stroke="#1a1a1a" stroke-width="0.35" font-size="17.5" font-weight="normal" text-anchor="end">0</text>
<line x1="334.4" y1="892.8" x2="340.6" y2="892.8" stroke="#1a1a1a" stroke-width="1.6"/>
<text x="331.7" y="898.25" fill="#1a1a1a" stroke="#1a1a1a" stroke-width="0.35" font-size="17.5" font-weight="normal" text-anchor="end">25</text>
<line x1="334.4" y1="862.4" x2="340.6" y2="862.4" stroke="#1a1a1a" stroke-width="1.6"/>
<text x="331.7" y="867.85" fill="#1a1a1a" stroke="#1a1a1a" stroke-width="0.35" font-size="17.5" font-weight="normal" text-anchor="end">50</text>
<line x1="334.4" y1="832" x2="340.6" y2="832" stroke="#1a1a1a" stroke-width="1.6"/>
<text x="331.7" y="837.45" fill="#1a1a1a" stroke="#1a1a1a" stroke-width="0.35" font-size="17.5" font-weight="normal" text-anchor="end">75</text>
<line x1="334.4" y1="801.6" x2="340.6" y2="801.6" stroke="#1a1a1a" stroke-width="1.6"/>
<text x="331.7" y="807.05" fill="#1a1a1a" stroke="#1a1a1a" stroke-width="0.35" font-size="17.5" font-weight="normal" text-anchor="end">100</text>
<line x1="340.6" y1="923.2" x2="340.6" y2="929.8" stroke="#1a1a1a" stroke-width="1.6"/>
<text transform="translate(345.6,945.6) rotate(-45)" text-anchor="end" font-size="16.8" fill="#1a1a1a" stroke="#1a1a1a" stroke-width="0.35">10<tspan dy="-5.6" font-size="13.5">-3</tspan></text>
<line x1="369.9" y1="923.2" x2="369.9" y2="929.8" stroke="#1a1a1a" stroke-width="1.6"/>
<text transform="translate(374.9,945.6) rotate(-45)" text-anchor="end" font-size="16.8" fill="#1a1a1a" stroke="#1a1a1a" stroke-width="0.35">10<tspan dy="-5.6" font-size="13.5">-2</tspan></text>
<line x1="399.2" y1="923.2" x2="399.2" y2="929.8" stroke="#1a1a1a" stroke-width="1.6"/>
<text transform="translate(404.2,945.6) rotate(-45)" text-anchor="end" font-size="16.8" fill="#1a1a1a" stroke="#1a1a1a" stroke-width="0.35">10<tspan dy="-5.6" font-size="13.5">-1</tspan></text>
<line x1="428.5" y1="923.2" x2="428.5" y2="929.8" stroke="#1a1a1a" stroke-width="1.6"/>
<text transform="translate(433.5,945.6) rotate(-45)" text-anchor="end" font-size="16.8" fill="#1a1a1a" stroke="#1a1a1a" stroke-width="0.35">10<tspan dy="-5.6" font-size="13.5">0</tspan></text>
<line x1="457.8" y1="923.2" x2="457.8" y2="929.8" stroke="#1a1a1a" stroke-width="1.6"/>
<text transform="translate(462.8,945.6) rotate(-45)" text-anchor="end" font-size="16.8" fill="#1a1a1a" stroke="#1a1a1a" stroke-width="0.35">10<tspan dy="-5.6" font-size="13.5">1</tspan></text>
<line x1="487.1" y1="923.2" x2="487.1" y2="929.8" stroke="#1a1a1a" stroke-width="1.6"/>
<text transform="translate(492.1,945.6) rotate(-45)" text-anchor="end" font-size="16.8" fill="#1a1a1a" stroke="#1a1a1a" stroke-width="0.35">10<tspan dy="-5.6" font-size="13.5">2</tspan></text>
<text x="415.8" y="755.7" fill="#1a1a1a" stroke="#1a1a1a" stroke-width="0.35" font-size="17.9" font-weight="normal" text-anchor="middle">gymnastatin Q</text>
<text x="414.7" y="992.4" fill="#1a1a1a" stroke="#1a1a1a" stroke-width="0.35" font-size="18" font-weight="normal" text-anchor="middle">concentrations (<tspan font-family="'Liberation Serif','DejaVu Serif',serif" font-size="18">μ</tspan>M)</text>
<text transform="translate(293.4,846.2) rotate(-90)" text-anchor="middle" font-size="17.5" fill="#1a1a1a" stroke="#1a1a1a" stroke-width="0.35">% proliferation</text>
<polyline points="369.9,923.2 370.8,923.2 371.71,923.2 372.61,923.2 373.51,923.2 374.42,923.2 375.32,923.2 376.22,923.2 377.13,923.2 378.03,923.2 378.93,923.2 379.83,923.2 380.74,923.2 381.64,923.2 382.54,923.2 383.45,923.2 384.35,923.2 385.25,923.2 386.16,923.2 387.06,923.2 387.96,923.2 388.87,923.2 389.77,923.2 390.67,923.2 391.58,923.2 392.48,923.2 393.38,923.2 394.29,923.2 395.19,923.2 396.09,923.2 396.99,923.2 397.9,923.2 398.8,923.2 399.7,923.2 400.61,923.2 401.51,923.2 402.41,923.2 403.32,923.2 404.22,923.2 405.12,923.2 406.03,923.2 406.93,923.2 407.83,923.2 408.74,923.2 409.64,923.2 410.54,923.2 411.45,923.2 412.35,923.2 413.25,923.2 414.16,923.2 415.06,923.2 415.96,923.2 416.86,923.2 417.77,923.2 418.67,923.2 419.57,923.2 420.48,923.2 421.38,923.2 422.28,923.2 423.19,923.2 424.09,923.2 424.99,923.2 425.9,923.2 426.8,923.2 427.7,923.2 428.61,923.19 429.51,923.19 430.41,923.19 431.32,923.19 432.22,923.19 433.12,923.18 434.02,923.18 434.93,923.17 435.83,923.16 436.73,923.15 437.64,923.14 438.54,923.12 439.44,923.1 440.35,923.08 441.25,923.04 442.15,923 443.06,922.95 443.96,922.88 444.86,922.8 445.77,922.69 446.67,922.56 447.57,922.39 448.48,922.17 449.38,921.9 450.28,921.55 451.18,921.12 452.09,920.58 452.99,919.89 453.89,919.04 454.8,917.97 455.7,916.65 456.6,915.02 457.51,913.01 458.41,910.57 459.31,907.62 460.22,904.11 461.12,899.98 462.02,895.2 462.93,889.77 463.83,883.73 464.73,877.16 465.64,870.21 466.54,863.05 467.44,855.87 468.35,848.87 469.25,842.22 470.15,836.08 471.05,830.54 471.96,825.64 472.86,821.39 473.76,817.77 474.67,814.72 475.57,812.19 476.47,810.12 477.38,808.42 478.28,807.04" fill="none" stroke="#4864ba" stroke-width="1.7" stroke-linejoin="round"/>
<circle cx="369.9" cy="920.16" r="3.6" fill="#4864ba"/>
<circle cx="399.2" cy="921.98" r="3.6" fill="#4864ba"/>
<circle cx="428.5" cy="923.2" r="3.6" fill="#4864ba"/>
<circle cx="457.8" cy="912.26" r="3.6" fill="#4864ba"/>
<circle cx="478.28" cy="806.46" r="3.6" fill="#4864ba"/>
<line x1="450.4" y1="862" x2="485.1" y2="862" stroke="#111" stroke-width="2.2"/>
<text x="425.4" y="879" fill="#1a1a1a" stroke="#1a1a1a" stroke-width="0.35" font-size="15.9" font-weight="normal" text-anchor="middle">EC50</text>
<text x="424.9" y="898.1" fill="#1a1a1a" stroke="#1a1a1a" stroke-width="0.35" font-size="15.9" font-weight="normal" text-anchor="middle">20 <tspan font-family="'Liberation Serif','DejaVu Serif',serif">μ</tspan>M</text>
<path d="M598.7,777.2 V923.2 M592.5,923.2 H745.7" fill="none" stroke="#1a1a1a" stroke-width="1.6"/>
<text x="589.8" y="928.65" fill="#1a1a1a" stroke="#1a1a1a" stroke-width="0.35" font-size="17.5" font-weight="normal" text-anchor="end">0</text>
<line x1="592.5" y1="892.8" x2="598.7" y2="892.8" stroke="#1a1a1a" stroke-width="1.6"/>
<text x="589.8" y="898.25" fill="#1a1a1a" stroke="#1a1a1a" stroke-width="0.35" font-size="17.5" font-weight="normal" text-anchor="end">25</text>
<line x1="592.5" y1="862.4" x2="598.7" y2="862.4" stroke="#1a1a1a" stroke-width="1.6"/>
<text x="589.8" y="867.85" fill="#1a1a1a" stroke="#1a1a1a" stroke-width="0.35" font-size="17.5" font-weight="normal" text-anchor="end">50</text>
<line x1="592.5" y1="832" x2="598.7" y2="832" stroke="#1a1a1a" stroke-width="1.6"/>
<text x="589.8" y="837.45" fill="#1a1a1a" stroke="#1a1a1a" stroke-width="0.35" font-size="17.5" font-weight="normal" text-anchor="end">75</text>
<line x1="592.5" y1="801.6" x2="598.7" y2="801.6" stroke="#1a1a1a" stroke-width="1.6"/>
<text x="589.8" y="807.05" fill="#1a1a1a" stroke="#1a1a1a" stroke-width="0.35" font-size="17.5" font-weight="normal" text-anchor="end">100</text>
<line x1="598.7" y1="923.2" x2="598.7" y2="929.8" stroke="#1a1a1a" stroke-width="1.6"/>
<text transform="translate(603.7,945.6) rotate(-45)" text-anchor="end" font-size="16.8" fill="#1a1a1a" stroke="#1a1a1a" stroke-width="0.35">10<tspan dy="-5.6" font-size="13.5">-3</tspan></text>
<line x1="627.96" y1="923.2" x2="627.96" y2="929.8" stroke="#1a1a1a" stroke-width="1.6"/>
<text transform="translate(632.96,945.6) rotate(-45)" text-anchor="end" font-size="16.8" fill="#1a1a1a" stroke="#1a1a1a" stroke-width="0.35">10<tspan dy="-5.6" font-size="13.5">-2</tspan></text>
<line x1="657.22" y1="923.2" x2="657.22" y2="929.8" stroke="#1a1a1a" stroke-width="1.6"/>
<text transform="translate(662.22,945.6) rotate(-45)" text-anchor="end" font-size="16.8" fill="#1a1a1a" stroke="#1a1a1a" stroke-width="0.35">10<tspan dy="-5.6" font-size="13.5">-1</tspan></text>
<line x1="686.48" y1="923.2" x2="686.48" y2="929.8" stroke="#1a1a1a" stroke-width="1.6"/>
<text transform="translate(691.48,945.6) rotate(-45)" text-anchor="end" font-size="16.8" fill="#1a1a1a" stroke="#1a1a1a" stroke-width="0.35">10<tspan dy="-5.6" font-size="13.5">0</tspan></text>
<line x1="715.74" y1="923.2" x2="715.74" y2="929.8" stroke="#1a1a1a" stroke-width="1.6"/>
<text transform="translate(720.74,945.6) rotate(-45)" text-anchor="end" font-size="16.8" fill="#1a1a1a" stroke="#1a1a1a" stroke-width="0.35">10<tspan dy="-5.6" font-size="13.5">1</tspan></text>
<line x1="745" y1="923.2" x2="745" y2="929.8" stroke="#1a1a1a" stroke-width="1.6"/>
<text transform="translate(750,945.6) rotate(-45)" text-anchor="end" font-size="16.8" fill="#1a1a1a" stroke="#1a1a1a" stroke-width="0.35">10<tspan dy="-5.6" font-size="13.5">2</tspan></text>
<text x="672.6" y="755.7" fill="#1a1a1a" stroke="#1a1a1a" stroke-width="0.35" font-size="17.9" font-weight="normal" text-anchor="middle">gymnastatin G</text>
<text x="671" y="992.4" fill="#1a1a1a" stroke="#1a1a1a" stroke-width="0.35" font-size="18" font-weight="normal" text-anchor="middle">concentrations (<tspan font-family="'Liberation Serif','DejaVu Serif',serif" font-size="18">μ</tspan>M)</text>
<text transform="translate(551.5,846.2) rotate(-90)" text-anchor="middle" font-size="17.5" fill="#1a1a1a" stroke="#1a1a1a" stroke-width="0.35">% proliferation</text>
<polyline points="627.96,923.2 628.86,923.2 629.76,923.2 630.67,923.2 631.57,923.2 632.47,923.2 633.37,923.2 634.27,923.2 635.18,923.2 636.08,923.2 636.98,923.2 637.88,923.2 638.78,923.2 639.69,923.2 640.59,923.2 641.49,923.2 642.39,923.2 643.29,923.2 644.19,923.2 645.1,923.2 646,923.2 646.9,923.2 647.8,923.2 648.7,923.2 649.61,923.2 650.51,923.2 651.41,923.2 652.31,923.2 653.21,923.2 654.12,923.2 655.02,923.2 655.92,923.2 656.82,923.2 657.72,923.2 658.63,923.2 659.53,923.2 660.43,923.2 661.33,923.2 662.23,923.2 663.14,923.2 664.04,923.2 664.94,923.2 665.84,923.2 666.74,923.2 667.65,923.2 668.55,923.2 669.45,923.2 670.35,923.2 671.25,923.2 672.15,923.2 673.06,923.2 673.96,923.2 674.86,923.2 675.76,923.2 676.66,923.2 677.57,923.2 678.47,923.19 679.37,923.19 680.27,923.19 681.17,923.19 682.08,923.19 682.98,923.19 683.88,923.19 684.78,923.18 685.68,923.18 686.59,923.18 687.49,923.17 688.39,923.17 689.29,923.16 690.19,923.16 691.1,923.15 692,923.14 692.9,923.13 693.8,923.12 694.7,923.11 695.6,923.09 696.51,923.07 697.41,923.05 698.31,923.02 699.21,922.99 700.11,922.96 701.02,922.92 701.92,922.87 702.82,922.81 703.72,922.75 704.62,922.67 705.53,922.58 706.43,922.47 707.33,922.34 708.23,922.2 709.13,922.03 710.04,921.83 710.94,921.59 711.84,921.32 712.74,921 713.64,920.63 714.55,920.2 715.45,919.7 716.35,919.11 717.25,918.44 718.15,917.65 719.06,916.75 719.96,915.71 720.86,914.51 721.76,913.13 722.66,911.57 723.56,909.78 724.47,907.76 725.37,905.49 726.27,902.95 727.17,900.12 728.07,897 728.98,893.58 729.88,889.88 730.78,885.9 731.68,881.67 732.58,877.22 733.49,872.59 734.39,867.84 735.29,863.02 736.19,858.19" fill="none" stroke="#4864ba" stroke-width="1.7" stroke-linejoin="round"/>
<circle cx="627.96" cy="923.2" r="3.6" fill="#4864ba"/>
<circle cx="657.22" cy="923.2" r="3.6" fill="#4864ba"/>
<circle cx="686.48" cy="923.2" r="3.6" fill="#4864ba"/>
<circle cx="715.74" cy="919.55" r="3.6" fill="#4864ba"/>
<circle cx="736.19" cy="858.02" r="3.6" fill="#4864ba"/>
<text x="686.5" y="875.9" fill="#1a1a1a" stroke="#1a1a1a" stroke-width="0.35" font-size="15.9" font-weight="normal" text-anchor="middle">EC50</text>
<text x="686.8" y="893.2" fill="#1a1a1a" stroke="#1a1a1a" stroke-width="0.35" font-size="15.9" font-weight="normal" text-anchor="middle">&gt;10 <tspan font-family="'Liberation Serif','DejaVu Serif',serif">μ</tspan>M</text>
</g>
</svg>
</body></html>
